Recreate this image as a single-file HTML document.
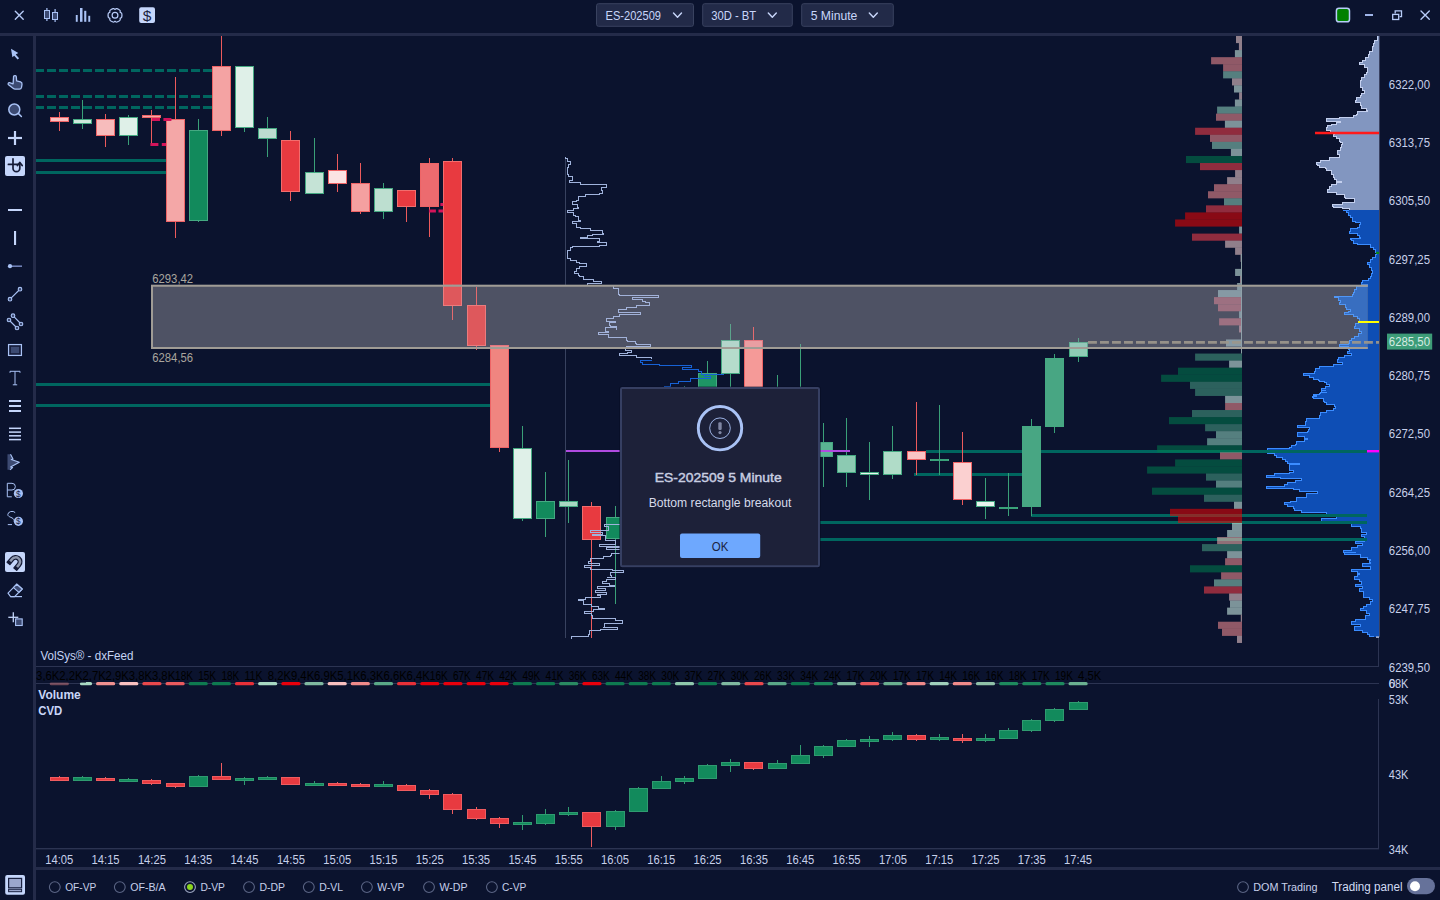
<!DOCTYPE html><html><head><meta charset="utf-8"><title>VolSys chart</title>
<style>html,body{margin:0;padding:0;background:#0b132e;overflow:hidden}svg{display:block}text{font-family:"Liberation Sans",sans-serif}</style></head><body>
<svg width="1440" height="900" viewBox="0 0 1440 900">
<rect width="1440" height="900" fill="#0b132e"/>
<defs><clipPath id="chart"><rect x="36" y="36" width="1343" height="630.5"/></clipPath><clipPath id="rc"><rect x="151" y="284.8" width="1216.8" height="64.2"/></clipPath></defs>
<g clip-path="url(#chart)">
<path d="M1379,36.0L1377.2,36.0V40.0H1374.6V43.3H1373.9V46.7H1372.3V51.1H1369.4V54.4H1368.6V57.1H1365.9V60.4H1362.3V62.9H1359.4V64.7H1364.6V67.8H1367.2V72.2H1366.3V74.4H1364.6V77.1H1361.4V80.7H1360.1V84.4H1360.6V87.3H1362.8V90.0H1364.6V93.3H1361.9V95.8H1360.6V97.3H1356.1V100.7H1355.7V102.4H1360.6V105.6H1361.7V108.2H1366.8V110.0H1367.9V111.3H1357.0V114.4H1356.1V115.8H1353.4V117.1H1339.0V118.4H1326.3V120.2H1326.8V121.1H1340.1V122.4H1336.8V124.2H1331.7V125.6H1327.9V127.8H1326.3V129.6H1326.8V130.9H1330.8V132.7H1334.6V134.4H1333.4V136.7H1336.8V138.9H1339.0V141.1H1340.6V142.4H1342.8V144.4H1341.9V147.8H1340.1V150.0H1337.9V152.7H1337.0V154.9H1339.0V157.1H1329.4V158.9H1329.0V160.7H1320.1V162.4H1316.8V164.2H1317.4V165.6H1319.7V167.3H1325.9V168.7H1326.8V170.0H1331.2V172.2H1331.7V174.4H1333.0V177.1H1334.6V179.3H1336.8V181.1H1341.4V182.9H1336.8V184.2H1331.7V186.0H1329.0V189.1H1327.4V191.3H1327.9V192.7H1336.8V194.9H1344.6V197.1H1345.0V198.9H1354.6V200.7H1354.1V202.4H1342.3V204.2H1332.6V206.0H1333.0V207.1H1342.8V208.7H1349.0V210.0H1346.8V210.0H1348.1V210.0H1379Z" fill="#8296c0" shape-rendering="crispEdges"/><path d="M1377.2,36.0V40.0H1374.6V43.3H1373.9V46.7H1372.3V51.1H1369.4V54.4H1368.6V57.1H1365.9V60.4H1362.3V62.9H1359.4V64.7H1364.6V67.8H1367.2V72.2H1366.3V74.4H1364.6V77.1H1361.4V80.7H1360.1V84.4H1360.6V87.3H1362.8V90.0H1364.6V93.3H1361.9V95.8H1360.6V97.3H1356.1V100.7H1355.7V102.4H1360.6V105.6H1361.7V108.2H1366.8V110.0H1367.9V111.3H1357.0V114.4H1356.1V115.8H1353.4V117.1H1339.0V118.4H1326.3V120.2H1326.8V121.1H1340.1V122.4H1336.8V124.2H1331.7V125.6H1327.9V127.8H1326.3V129.6H1326.8V130.9H1330.8V132.7H1334.6V134.4H1333.4V136.7H1336.8V138.9H1339.0V141.1H1340.6V142.4H1342.8V144.4H1341.9V147.8H1340.1V150.0H1337.9V152.7H1337.0V154.9H1339.0V157.1H1329.4V158.9H1329.0V160.7H1320.1V162.4H1316.8V164.2H1317.4V165.6H1319.7V167.3H1325.9V168.7H1326.8V170.0H1331.2V172.2H1331.7V174.4H1333.0V177.1H1334.6V179.3H1336.8V181.1H1341.4V182.9H1336.8V184.2H1331.7V186.0H1329.0V189.1H1327.4V191.3H1327.9V192.7H1336.8V194.9H1344.6V197.1H1345.0V198.9H1354.6V200.7H1354.1V202.4H1342.3V204.2H1332.6V206.0H1333.0V207.1H1342.8V208.7H1349.0V210.0H1346.8V210.0H1348.1V210.0" fill="none" stroke="#c3cfee" stroke-width="1" shape-rendering="crispEdges"/>
<path d="M1379,210.0L1342.8,210.0V210.0H1349.0V210.0H1346.8V212.2H1348.1V215.1H1350.1V217.8H1352.3V221.1H1355.2V222.7H1360.1V224.9H1359.7V227.1H1357.9V228.4H1350.1V231.1H1349.7V233.3H1357.9V235.6H1359.7V237.3H1360.1V238.2H1350.8V239.6H1351.7V240.9H1353.9V243.1H1357.4V244.9H1370.8V247.1H1373.0V249.3H1375.7V252.4H1376.8V254.7H1375.7V257.3H1372.3V259.6H1370.3V262.7H1367.2V264.9H1369.0V267.8H1371.2V270.7H1372.6V273.3H1371.2V276.0H1370.1V278.2H1368.6V280.4H1362.8V282.7H1361.9V284.4H1367.7V286.7H1356.1V289.3H1354.6V292.2H1353.4V294.7H1352.6V296.0H1334.6V297.8H1338.3V300.4H1340.1V302.7H1339.7V304.9H1345.7V307.6H1346.3V309.3H1350.1V311.1H1348.6V312.9H1344.1V314.2H1353.4V316.4H1357.4V318.7H1359.0V321.8H1358.3V323.6H1355.7V326.7H1354.6V328.9H1359.0V331.6H1361.9V333.3H1358.3V336.0H1354.6V338.2H1351.2V340.4H1349.0V343.1H1348.6V344.9H1339.0V346.7H1348.6V349.3H1349.0V351.1H1347.9V353.3H1351.2V355.1H1344.6V357.3H1338.3V359.6H1337.9V362.2H1342.8V364.4H1333.9V366.7H1319.7V368.9H1315.0V371.6H1314.1V373.8H1303.9V375.6H1309.4V377.3H1313.0V379.1H1318.3V380.0H1319.0V381.3H1324.1V382.2H1326.8V383.6H1326.8V384.4H1329.0V385.8H1329.0V386.7H1325.9V388.0H1322.8V388.0H1321.2V390.2H1325.9V390.2H1321.9V392.0H1326.8V392.4H1320.6V393.8H1319.7V394.7H1313.4V395.6H1316.8V396.9H1312.8V397.8H1313.4V398.7H1323.4V401.3H1324.6V402.7H1326.8V404.4H1334.6V406.7H1335.7V408.9H1333.4V410.7H1326.8V412.9H1320.6V415.1H1319.7V417.3H1319.0V418.9H1306.8V421.3H1305.7V423.6H1305.9V425.3H1297.4V427.1H1309.0V429.3H1308.1V431.6H1307.7V432.9H1297.9V434.7H1297.4V436.0H1304.6V438.2H1307.9V439.6H1304.6V441.8H1296.8V444.0H1295.7V445.3H1291.2V447.1H1289.0V448.4H1267.9V450.7H1267.9V453.3H1274.6V455.6H1276.8V457.3H1282.3V459.1H1285.7V461.3H1287.9V463.1H1299.0V464.4H1289.0V467.1H1289.0V469.3H1289.4V470.7H1293.4V472.4H1289.0V473.8H1274.6V475.6H1266.3V477.3H1280.1V478.7H1301.2V480.4H1295.7V482.2H1287.9V484.4H1284.6V486.2H1266.3V488.0H1293.4V489.8H1299.0V491.6H1317.4V493.3H1306.8V495.6H1306.3V497.3H1296.8V499.6H1296.1V501.3H1290.1V502.7H1284.6V504.4H1287.9V506.7H1293.4V508.4H1294.6V510.2H1301.2V512.0H1326.8V514.2H1326.8V516.9H1336.8V518.7H1321.2V520.9H1321.2V522.7H1351.2V524.4H1351.7V526.2H1360.1V528.4H1361.2V530.7H1361.2V532.0H1366.8V534.2H1361.2V536.4H1364.6V538.7H1364.6V541.3H1355.7V543.6H1362.3V545.3H1357.9V547.1H1351.2V548.9H1351.2V550.0H1343.4V550.7H1343.4V552.2H1355.7V552.9H1344.6V554.7H1356.8V554.9H1360.1V556.9H1360.1V557.1H1367.9V558.7H1367.9V559.3H1370.1V560.9H1369.0V562.4H1370.1V563.1H1362.3V563.8H1362.8V565.3H1362.8V566.0H1369.0V566.7H1370.1V568.2H1370.1V568.4H1370.1V569.8H1351.2V570.0H1351.2V571.6H1357.9V572.2H1357.9V573.8H1359.0V574.9H1357.9V576.9H1354.6V577.1H1354.6V579.3H1359.0V581.6H1361.2V584.2H1355.7V586.4H1362.3V588.7H1359.0V591.3H1363.4V594.4H1363.4V597.1H1369.0V599.3H1372.3V601.6H1370.1V604.2H1366.8V606.0H1363.4V608.2H1360.6V610.4H1366.8V613.1H1369.0V615.3H1365.7V617.6H1365.7V619.3H1355.7V621.6H1351.7V624.2H1360.1V626.4H1354.6V629.1H1354.6V630.4H1362.3V632.2H1367.9V634.4H1369.0V636.2H1373.4V636.7H1379Z" fill="#0e4eb5" shape-rendering="crispEdges"/><path d="M1342.8,210.0V210.0H1349.0V210.0H1346.8V212.2H1348.1V215.1H1350.1V217.8H1352.3V221.1H1355.2V222.7H1360.1V224.9H1359.7V227.1H1357.9V228.4H1350.1V231.1H1349.7V233.3H1357.9V235.6H1359.7V237.3H1360.1V238.2H1350.8V239.6H1351.7V240.9H1353.9V243.1H1357.4V244.9H1370.8V247.1H1373.0V249.3H1375.7V252.4H1376.8V254.7H1375.7V257.3H1372.3V259.6H1370.3V262.7H1367.2V264.9H1369.0V267.8H1371.2V270.7H1372.6V273.3H1371.2V276.0H1370.1V278.2H1368.6V280.4H1362.8V282.7H1361.9V284.4H1367.7V286.7H1356.1V289.3H1354.6V292.2H1353.4V294.7H1352.6V296.0H1334.6V297.8H1338.3V300.4H1340.1V302.7H1339.7V304.9H1345.7V307.6H1346.3V309.3H1350.1V311.1H1348.6V312.9H1344.1V314.2H1353.4V316.4H1357.4V318.7H1359.0V321.8H1358.3V323.6H1355.7V326.7H1354.6V328.9H1359.0V331.6H1361.9V333.3H1358.3V336.0H1354.6V338.2H1351.2V340.4H1349.0V343.1H1348.6V344.9H1339.0V346.7H1348.6V349.3H1349.0V351.1H1347.9V353.3H1351.2V355.1H1344.6V357.3H1338.3V359.6H1337.9V362.2H1342.8V364.4H1333.9V366.7H1319.7V368.9H1315.0V371.6H1314.1V373.8H1303.9V375.6H1309.4V377.3H1313.0V379.1H1318.3V380.0H1319.0V381.3H1324.1V382.2H1326.8V383.6H1326.8V384.4H1329.0V385.8H1329.0V386.7H1325.9V388.0H1322.8V388.0H1321.2V390.2H1325.9V390.2H1321.9V392.0H1326.8V392.4H1320.6V393.8H1319.7V394.7H1313.4V395.6H1316.8V396.9H1312.8V397.8H1313.4V398.7H1323.4V401.3H1324.6V402.7H1326.8V404.4H1334.6V406.7H1335.7V408.9H1333.4V410.7H1326.8V412.9H1320.6V415.1H1319.7V417.3H1319.0V418.9H1306.8V421.3H1305.7V423.6H1305.9V425.3H1297.4V427.1H1309.0V429.3H1308.1V431.6H1307.7V432.9H1297.9V434.7H1297.4V436.0H1304.6V438.2H1307.9V439.6H1304.6V441.8H1296.8V444.0H1295.7V445.3H1291.2V447.1H1289.0V448.4H1267.9V450.7H1267.9V453.3H1274.6V455.6H1276.8V457.3H1282.3V459.1H1285.7V461.3H1287.9V463.1H1299.0V464.4H1289.0V467.1H1289.0V469.3H1289.4V470.7H1293.4V472.4H1289.0V473.8H1274.6V475.6H1266.3V477.3H1280.1V478.7H1301.2V480.4H1295.7V482.2H1287.9V484.4H1284.6V486.2H1266.3V488.0H1293.4V489.8H1299.0V491.6H1317.4V493.3H1306.8V495.6H1306.3V497.3H1296.8V499.6H1296.1V501.3H1290.1V502.7H1284.6V504.4H1287.9V506.7H1293.4V508.4H1294.6V510.2H1301.2V512.0H1326.8V514.2H1326.8V516.9H1336.8V518.7H1321.2V520.9H1321.2V522.7H1351.2V524.4H1351.7V526.2H1360.1V528.4H1361.2V530.7H1361.2V532.0H1366.8V534.2H1361.2V536.4H1364.6V538.7H1364.6V541.3H1355.7V543.6H1362.3V545.3H1357.9V547.1H1351.2V548.9H1351.2V550.0H1343.4V550.7H1343.4V552.2H1355.7V552.9H1344.6V554.7H1356.8V554.9H1360.1V556.9H1360.1V557.1H1367.9V558.7H1367.9V559.3H1370.1V560.9H1369.0V562.4H1370.1V563.1H1362.3V563.8H1362.8V565.3H1362.8V566.0H1369.0V566.7H1370.1V568.2H1370.1V568.4H1370.1V569.8H1351.2V570.0H1351.2V571.6H1357.9V572.2H1357.9V573.8H1359.0V574.9H1357.9V576.9H1354.6V577.1H1354.6V579.3H1359.0V581.6H1361.2V584.2H1355.7V586.4H1362.3V588.7H1359.0V591.3H1363.4V594.4H1363.4V597.1H1369.0V599.3H1372.3V601.6H1370.1V604.2H1366.8V606.0H1363.4V608.2H1360.6V610.4H1366.8V613.1H1369.0V615.3H1365.7V617.6H1365.7V619.3H1355.7V621.6H1351.7V624.2H1360.1V626.4H1354.6V629.1H1354.6V630.4H1362.3V632.2H1367.9V634.4H1369.0V636.2H1373.4V636.7" fill="none" stroke="#3b8cff" stroke-width="1" shape-rendering="crispEdges"/>
<line x1="36" y1="70.5" x2="212" y2="70.5" stroke="#00665f" stroke-width="3" stroke-dasharray="8.8 3.2" stroke-dashoffset="1.3" shape-rendering="crispEdges"/>
<line x1="36" y1="96.5" x2="212" y2="96.5" stroke="#00665f" stroke-width="3" stroke-dasharray="8.8 3.2" stroke-dashoffset="1.3" shape-rendering="crispEdges"/>
<line x1="36" y1="107.5" x2="212" y2="107.5" stroke="#00665f" stroke-width="3" stroke-dasharray="8.8 3.2" stroke-dashoffset="1.3" shape-rendering="crispEdges"/>
<line x1="36" y1="160.5" x2="166" y2="160.5" stroke="#00665f" stroke-width="3" shape-rendering="crispEdges"/>
<line x1="36" y1="172.5" x2="166" y2="172.5" stroke="#00665f" stroke-width="3" shape-rendering="crispEdges"/>
<line x1="36" y1="384.5" x2="490" y2="384.5" stroke="#00665f" stroke-width="3" shape-rendering="crispEdges"/>
<line x1="36" y1="405.5" x2="490" y2="405.5" stroke="#00665f" stroke-width="3" shape-rendering="crispEdges"/>
<line x1="926" y1="451.5" x2="1367" y2="451.5" stroke="#00665f" stroke-width="3" shape-rendering="crispEdges"/>
<rect x="1367" y="450" width="12" height="2.4" fill="#ff00ff"/>
<line x1="914" y1="474.5" x2="1022" y2="474.5" stroke="#00665f" stroke-width="3" shape-rendering="crispEdges"/>
<line x1="1031" y1="515.5" x2="1367" y2="515.5" stroke="#00665f" stroke-width="3" shape-rendering="crispEdges"/>
<line x1="625" y1="522.5" x2="1367" y2="522.5" stroke="#00665f" stroke-width="3" shape-rendering="crispEdges"/>
<line x1="625" y1="539.5" x2="1367" y2="539.5" stroke="#00665f" stroke-width="3" shape-rendering="crispEdges"/>
<rect x="1236.0" y="36.00" width="6.0" height="7.11" fill="rgba(255,217,217,0.55)"/>
<rect x="1238.9" y="43.06" width="3.1" height="7.11" fill="rgba(255,217,217,0.55)"/>
<rect x="1234.9" y="50.11" width="7.1" height="7.11" fill="rgba(218,254,242,0.55)"/>
<rect x="1211.1" y="57.17" width="30.9" height="7.11" fill="rgba(255,148,151,0.55)"/>
<rect x="1223.1" y="64.23" width="18.9" height="7.11" fill="rgba(255,148,151,0.55)"/>
<rect x="1223.1" y="71.28" width="18.9" height="7.11" fill="rgba(147,217,195,0.55)"/>
<rect x="1232.0" y="78.34" width="10.0" height="7.11" fill="rgba(255,217,217,0.55)"/>
<rect x="1234.0" y="85.40" width="8.0" height="7.11" fill="rgba(218,254,242,0.55)"/>
<rect x="1239.1" y="92.46" width="2.9" height="7.11" fill="rgba(255,217,217,0.55)"/>
<rect x="1234.9" y="99.51" width="7.1" height="7.11" fill="rgba(218,254,242,0.55)"/>
<rect x="1217.1" y="106.57" width="24.9" height="7.11" fill="rgba(147,217,195,0.55)"/>
<rect x="1216.0" y="113.63" width="26.0" height="7.11" fill="rgba(255,148,151,0.55)"/>
<rect x="1224.9" y="120.68" width="17.1" height="7.11" fill="rgba(218,254,242,0.55)"/>
<rect x="1195.1" y="127.74" width="46.9" height="7.11" fill="rgba(255,66,77,0.55)"/>
<rect x="1210.0" y="134.80" width="32.0" height="7.11" fill="rgba(255,148,151,0.55)"/>
<rect x="1212.0" y="141.86" width="30.0" height="7.11" fill="rgba(147,217,195,0.55)"/>
<rect x="1230.9" y="148.91" width="11.1" height="7.11" fill="rgba(218,254,242,0.55)"/>
<rect x="1186.0" y="155.97" width="56.0" height="7.11" fill="rgba(0,124,79,0.55)"/>
<rect x="1200.0" y="163.03" width="42.0" height="7.11" fill="rgba(255,66,77,0.55)"/>
<rect x="1235.1" y="170.08" width="6.9" height="7.11" fill="rgba(255,217,217,0.55)"/>
<rect x="1227.1" y="177.14" width="14.9" height="7.11" fill="rgba(255,217,217,0.55)"/>
<rect x="1214.0" y="184.20" width="28.0" height="7.11" fill="rgba(255,148,151,0.55)"/>
<rect x="1208.0" y="191.25" width="34.0" height="7.11" fill="rgba(255,148,151,0.55)"/>
<rect x="1224.0" y="198.31" width="18.0" height="7.11" fill="rgba(147,217,195,0.55)"/>
<rect x="1206.0" y="205.37" width="36.0" height="7.11" fill="rgba(255,66,77,0.55)"/>
<rect x="1185.1" y="212.43" width="56.9" height="7.11" fill="rgba(242,3,2,0.55)"/>
<rect x="1175.1" y="219.48" width="66.9" height="7.11" fill="rgba(242,3,2,0.55)"/>
<rect x="1239.1" y="226.54" width="2.9" height="7.11" fill="rgba(218,254,242,0.55)"/>
<rect x="1192.0" y="233.60" width="50.0" height="7.11" fill="rgba(255,66,77,0.55)"/>
<rect x="1225.1" y="240.65" width="16.9" height="7.11" fill="rgba(255,217,217,0.55)"/>
<rect x="1235.1" y="247.71" width="6.9" height="7.11" fill="rgba(255,217,217,0.55)"/>
<rect x="1240.5" y="254.77" width="1.5" height="7.11" fill="rgba(255,217,217,0.55)"/>
<rect x="1241.0" y="261.82" width="1.0" height="7.11" fill="rgba(218,254,242,0.55)"/>
<rect x="1235.1" y="268.88" width="6.9" height="7.11" fill="rgba(218,254,242,0.55)"/>
<rect x="1240.0" y="275.94" width="2.0" height="7.11" fill="rgba(255,217,217,0.55)"/>
<rect x="1237.1" y="283.00" width="4.9" height="7.11" fill="rgba(218,254,242,0.55)"/>
<rect x="1218.0" y="290.05" width="24.0" height="7.11" fill="rgba(218,254,242,0.55)"/>
<rect x="1214.0" y="297.11" width="28.0" height="7.11" fill="rgba(255,148,151,0.55)"/>
<rect x="1218.0" y="304.17" width="24.0" height="7.11" fill="rgba(255,148,151,0.55)"/>
<rect x="1239.1" y="311.22" width="2.9" height="7.11" fill="rgba(218,254,242,0.55)"/>
<rect x="1219.1" y="318.28" width="22.9" height="7.11" fill="rgba(255,148,151,0.55)"/>
<rect x="1239.1" y="325.34" width="2.9" height="7.11" fill="rgba(255,217,217,0.55)"/>
<rect x="1241.0" y="332.39" width="1.0" height="7.11" fill="rgba(255,217,217,0.55)"/>
<rect x="1226.0" y="339.45" width="16.0" height="7.11" fill="rgba(218,254,242,0.55)"/>
<rect x="1241.0" y="346.51" width="1.0" height="7.11" fill="rgba(218,254,242,0.55)"/>
<rect x="1195.1" y="353.56" width="46.9" height="7.11" fill="rgba(73,163,133,0.55)"/>
<rect x="1229.1" y="360.62" width="12.9" height="7.11" fill="rgba(218,254,242,0.55)"/>
<rect x="1178.0" y="367.68" width="64.0" height="7.11" fill="rgba(0,124,79,0.55)"/>
<rect x="1161.1" y="374.74" width="80.9" height="7.11" fill="rgba(0,124,79,0.55)"/>
<rect x="1190.0" y="381.79" width="52.0" height="7.11" fill="rgba(73,163,133,0.55)"/>
<rect x="1195.1" y="388.85" width="46.9" height="7.11" fill="rgba(73,163,133,0.55)"/>
<rect x="1225.1" y="395.91" width="16.9" height="7.11" fill="rgba(218,254,242,0.55)"/>
<rect x="1225.1" y="402.96" width="16.9" height="7.11" fill="rgba(255,148,151,0.55)"/>
<rect x="1192.0" y="410.02" width="50.0" height="7.11" fill="rgba(73,163,133,0.55)"/>
<rect x="1169.0" y="417.08" width="73.0" height="7.11" fill="rgba(0,124,79,0.55)"/>
<rect x="1205.1" y="424.14" width="36.9" height="7.11" fill="rgba(73,163,133,0.55)"/>
<rect x="1216.0" y="431.19" width="26.0" height="7.11" fill="rgba(147,217,195,0.55)"/>
<rect x="1207.1" y="438.25" width="34.9" height="7.11" fill="rgba(147,217,195,0.55)"/>
<rect x="1157.1" y="445.31" width="84.9" height="7.11" fill="rgba(0,124,79,0.55)"/>
<rect x="1220.0" y="452.36" width="22.0" height="7.11" fill="rgba(255,148,151,0.55)"/>
<rect x="1175.1" y="459.42" width="66.9" height="7.11" fill="rgba(0,124,79,0.55)"/>
<rect x="1147.1" y="466.48" width="94.9" height="7.11" fill="rgba(0,124,79,0.55)"/>
<rect x="1206.0" y="473.53" width="36.0" height="7.11" fill="rgba(73,163,133,0.55)"/>
<rect x="1216.0" y="480.59" width="26.0" height="7.11" fill="rgba(147,217,195,0.55)"/>
<rect x="1152.0" y="487.65" width="90.0" height="7.11" fill="rgba(0,124,79,0.55)"/>
<rect x="1204.0" y="494.71" width="38.0" height="7.11" fill="rgba(73,163,133,0.55)"/>
<rect x="1234.0" y="501.76" width="8.0" height="7.11" fill="rgba(218,254,242,0.55)"/>
<rect x="1170.0" y="508.82" width="72.0" height="7.11" fill="rgba(242,3,2,0.55)"/>
<rect x="1178.0" y="515.88" width="64.0" height="7.11" fill="rgba(242,3,2,0.55)"/>
<rect x="1232.0" y="522.93" width="10.0" height="7.11" fill="rgba(218,254,242,0.55)"/>
<rect x="1227.1" y="529.99" width="14.9" height="7.11" fill="rgba(218,254,242,0.55)"/>
<rect x="1217.1" y="537.05" width="24.9" height="7.11" fill="rgba(255,188,181,0.55)"/>
<rect x="1202.0" y="544.10" width="40.0" height="7.11" fill="rgba(73,163,133,0.55)"/>
<rect x="1227.1" y="551.16" width="14.9" height="7.11" fill="rgba(218,254,242,0.55)"/>
<rect x="1225.1" y="558.22" width="16.9" height="7.11" fill="rgba(255,148,151,0.55)"/>
<rect x="1190.0" y="565.27" width="52.0" height="7.11" fill="rgba(0,124,79,0.55)"/>
<rect x="1221.1" y="572.33" width="20.9" height="7.11" fill="rgba(255,148,151,0.55)"/>
<rect x="1214.0" y="579.39" width="28.0" height="7.11" fill="rgba(147,217,195,0.55)"/>
<rect x="1204.0" y="586.45" width="38.0" height="7.11" fill="rgba(255,66,77,0.55)"/>
<rect x="1229.1" y="593.50" width="12.9" height="7.11" fill="rgba(255,217,217,0.55)"/>
<rect x="1230.0" y="600.56" width="12.0" height="7.11" fill="rgba(218,254,242,0.55)"/>
<rect x="1227.1" y="607.62" width="14.9" height="7.11" fill="rgba(218,254,242,0.55)"/>
<rect x="1240.8" y="614.67" width="1.2" height="7.11" fill="rgba(255,217,217,0.55)"/>
<rect x="1218.0" y="621.73" width="24.0" height="7.11" fill="rgba(255,148,151,0.55)"/>
<rect x="1222.0" y="628.79" width="20.0" height="7.11" fill="rgba(255,148,151,0.55)"/>
<rect x="1237.0" y="635.85" width="5.0" height="7.11" fill="rgba(255,217,217,0.55)"/>
<line x1="1241.5" y1="254" x2="1241.5" y2="353" stroke="#8a9ea2" stroke-width="1"/>
<line x1="565.5" y1="157.3" x2="565.5" y2="285" stroke="#38425f" stroke-width="1" shape-rendering="crispEdges"/>
<line x1="565.5" y1="349" x2="565.5" y2="638" stroke="#38425f" stroke-width="1" shape-rendering="crispEdges"/>
<rect x="59" y="112" width="1" height="19" fill="#ec5a5c"/><rect x="50" y="117" width="19" height="5" fill="#ee6466"/><rect x="51" y="118" width="17" height="3" fill="#f9c0c0"/>
<rect x="82" y="100" width="1" height="29" fill="#3aa078"/><rect x="73" y="119" width="19" height="5" fill="#45a982"/><rect x="74" y="120" width="17" height="3" fill="#cfe9dc"/>
<rect x="105" y="114" width="1" height="33" fill="#ec5a5c"/><rect x="96" y="119" width="19" height="17" fill="#ee6466"/><rect x="97" y="120" width="17" height="15" fill="#f7bcbc"/>
<rect x="128" y="115" width="1" height="30" fill="#3aa078"/><rect x="119" y="117" width="19" height="19" fill="#45a982"/><rect x="120" y="118" width="17" height="17" fill="#dff0e8"/>
<rect x="151" y="110" width="1" height="33" fill="#ec5a5c"/><rect x="142" y="115" width="19" height="3" fill="#ee6466"/><rect x="143" y="116" width="17" height="1" fill="#f5a8a8"/>
<rect x="175" y="77" width="1" height="161" fill="#ec5a5c"/><rect x="166" y="119" width="19" height="103" fill="#ee6466"/><rect x="167" y="120" width="17" height="101" fill="#f4a7a7"/>
<rect x="198" y="119" width="1" height="103" fill="#3aa078"/><rect x="189" y="130" width="19" height="91" fill="#45a982"/><rect x="190" y="131" width="17" height="89" fill="#128a5c"/>
<rect x="221" y="36" width="1" height="100" fill="#ec5a5c"/><rect x="212" y="66" width="19" height="65" fill="#ee6466"/><rect x="213" y="67" width="17" height="63" fill="#f4a3a3"/>
<rect x="244" y="66" width="1" height="66" fill="#3aa078"/><rect x="235" y="66" width="19" height="62" fill="#45a982"/><rect x="236" y="67" width="17" height="60" fill="#dff0e8"/>
<rect x="267" y="117" width="1" height="40" fill="#3aa078"/><rect x="258" y="128" width="19" height="11" fill="#45a982"/><rect x="259" y="129" width="17" height="9" fill="#bcdccf"/>
<rect x="290" y="131" width="1" height="70" fill="#ec5a5c"/><rect x="281" y="140" width="19" height="52" fill="#f26d6d"/><rect x="282" y="141" width="17" height="50" fill="#e83a40"/>
<rect x="314" y="138" width="1" height="56" fill="#3aa078"/><rect x="305" y="172" width="19" height="22" fill="#45a982"/><rect x="306" y="173" width="17" height="20" fill="#c5e3d6"/>
<rect x="337" y="154" width="1" height="38" fill="#ec5a5c"/><rect x="328" y="170" width="19" height="14" fill="#ee6466"/><rect x="329" y="171" width="17" height="12" fill="#fbe3e3"/>
<rect x="360" y="163" width="1" height="51" fill="#ec5a5c"/><rect x="351" y="183" width="19" height="29" fill="#ee6466"/><rect x="352" y="184" width="17" height="27" fill="#f4a0a0"/>
<rect x="383" y="183" width="1" height="36" fill="#3aa078"/><rect x="374" y="188" width="19" height="24" fill="#45a982"/><rect x="375" y="189" width="17" height="22" fill="#bddfd0"/>
<rect x="406" y="190" width="1" height="32" fill="#ec5a5c"/><rect x="397" y="190" width="19" height="17" fill="#f26d6d"/><rect x="398" y="191" width="17" height="15" fill="#e83a40"/>
<rect x="429" y="158" width="1" height="79" fill="#ec5a5c"/><rect x="420" y="163" width="19" height="44" fill="#ee6466"/><rect x="421" y="164" width="17" height="42" fill="#ec6b6f"/>
<rect x="452" y="158" width="1" height="162" fill="#ec5a5c"/><rect x="443" y="161" width="19" height="145" fill="#f26d6d"/><rect x="444" y="162" width="17" height="143" fill="#e83a40"/>
<rect x="476" y="287" width="1" height="63" fill="#ec5a5c"/><rect x="467" y="305" width="19" height="41" fill="#f26d6d"/><rect x="468" y="306" width="17" height="39" fill="#e83a40"/>
<rect x="499" y="345" width="1" height="107" fill="#ec5a5c"/><rect x="490" y="345" width="19" height="103" fill="#ee6466"/><rect x="491" y="346" width="17" height="101" fill="#f08580"/>
<rect x="522" y="426" width="1" height="95" fill="#3aa078"/><rect x="513" y="448" width="19" height="71" fill="#45a982"/><rect x="514" y="449" width="17" height="69" fill="#dff0e8"/>
<rect x="545" y="472" width="1" height="65" fill="#3aa078"/><rect x="536" y="501" width="19" height="18" fill="#45a982"/><rect x="537" y="502" width="17" height="16" fill="#128a5c"/>
<rect x="568" y="460" width="1" height="63" fill="#3aa078"/><rect x="559" y="501" width="19" height="6" fill="#45a982"/><rect x="560" y="502" width="17" height="4" fill="#a8d8c2"/>
<rect x="591" y="502" width="1" height="136" fill="#ec5a5c"/><rect x="582" y="506" width="19" height="34" fill="#f26d6d"/><rect x="583" y="507" width="17" height="32" fill="#e83a40"/>
<rect x="615" y="506" width="1" height="98" fill="#3aa078"/><rect x="606" y="517" width="19" height="22" fill="#45a982"/><rect x="607" y="518" width="17" height="20" fill="#128a5c"/>
<rect x="684" y="386" width="1" height="34" fill="#3aa078"/><rect x="675" y="390" width="19" height="30" fill="#45a982"/><rect x="676" y="391" width="17" height="28" fill="#128a5c"/>
<rect x="707" y="361" width="1" height="39" fill="#3aa078"/><rect x="698" y="373" width="19" height="27" fill="#45a982"/><rect x="699" y="374" width="17" height="25" fill="#1e9565"/>
<rect x="730" y="324" width="1" height="74" fill="#3aa078"/><rect x="721" y="340" width="19" height="34" fill="#45a982"/><rect x="722" y="341" width="17" height="32" fill="#b5dccb"/>
<rect x="753" y="327" width="1" height="73" fill="#ec5a5c"/><rect x="744" y="340" width="19" height="60" fill="#ee6466"/><rect x="745" y="341" width="17" height="58" fill="#f59a98"/>
<rect x="777" y="375" width="1" height="35" fill="#3aa078"/><rect x="768" y="392" width="19" height="18" fill="#45a982"/><rect x="769" y="393" width="17" height="16" fill="#8ccab2"/>
<rect x="800" y="344" width="1" height="66" fill="#3aa078"/><rect x="791" y="392" width="19" height="18" fill="#45a982"/><rect x="792" y="393" width="17" height="16" fill="#8ccab2"/>
<rect x="823" y="423" width="1" height="64" fill="#3aa078"/><rect x="814" y="442" width="19" height="15" fill="#45a982"/><rect x="815" y="443" width="17" height="13" fill="#5ab592"/>
<rect x="846" y="418" width="1" height="69" fill="#3aa078"/><rect x="837" y="455" width="19" height="18" fill="#45a982"/><rect x="838" y="456" width="17" height="16" fill="#8ccab2"/>
<rect x="869" y="442" width="1" height="58" fill="#3aa078"/><rect x="860" y="472" width="19" height="3" fill="#45a982"/><rect x="861" y="473" width="17" height="1" fill="#eaf6f0"/>
<rect x="892" y="426" width="1" height="53" fill="#3aa078"/><rect x="883" y="451" width="19" height="24" fill="#45a982"/><rect x="884" y="452" width="17" height="22" fill="#b0dcc8"/>
<rect x="916" y="402" width="1" height="73" fill="#ec5a5c"/><rect x="907" y="451" width="19" height="9" fill="#ee6466"/><rect x="908" y="452" width="17" height="7" fill="#f9c5c5"/>
<rect x="939" y="405" width="1" height="70" fill="#3aa078"/><rect x="930" y="459" width="19" height="2" fill="#45a982"/><rect x="931" y="459.5" width="17" height="1" fill="#2f9b70"/>
<rect x="962" y="432" width="1" height="73" fill="#ec5a5c"/><rect x="953" y="462" width="19" height="38" fill="#ee6466"/><rect x="954" y="463" width="17" height="36" fill="#fbd0d0"/>
<rect x="985" y="478" width="1" height="41" fill="#3aa078"/><rect x="976" y="501" width="19" height="6" fill="#45a982"/><rect x="977" y="502" width="17" height="4" fill="#e8f5ee"/>
<rect x="1008" y="473" width="1" height="43" fill="#3aa078"/><rect x="999" y="507" width="19" height="2" fill="#45a982"/><rect x="1000" y="507.5" width="17" height="1" fill="#2f9b70"/>
<rect x="1031" y="419" width="1" height="97" fill="#3aa078"/><rect x="1022" y="426" width="19" height="81" fill="#45a982"/><rect x="1023" y="427" width="17" height="79" fill="#48a683"/>
<rect x="1054" y="354" width="1" height="79" fill="#3aa078"/><rect x="1045" y="358" width="19" height="69" fill="#45a982"/><rect x="1046" y="359" width="17" height="67" fill="#48a683"/>
<rect x="1078" y="338" width="1" height="24" fill="#3aa078"/><rect x="1069" y="342" width="19" height="15" fill="#45a982"/><rect x="1070" y="343" width="17" height="13" fill="#8fccb5"/>
<rect x="566" y="450" width="284" height="2" fill="#b04be0"/>
<line x1="152" y1="119.5" x2="171.5" y2="119.5" stroke="#d4145a" stroke-width="3" stroke-dasharray="8 3.4"/>
<line x1="150.4" y1="144.5" x2="166" y2="144.5" stroke="#d4145a" stroke-width="3" stroke-dasharray="8 3.4"/>
<line x1="440.4" y1="204.4" x2="443.3" y2="204.4" stroke="#d4145a" stroke-width="3"/>
<line x1="428.9" y1="211.1" x2="443.3" y2="211.1" stroke="#d4145a" stroke-width="3" stroke-dasharray="7 2.6"/>
<path d="M565.4,156.7V158.9H567.2V161.1H570.6V164.4H568.8V167.8H567.9V171.1H567.2V174.4H568.8V176.7H572.3V180.0H569.7V182.7H571.7V182.7H580.6V184.9H580.6V184.9H606.6V187.3H606.6V187.3H601.2V190.0H602.8V193.3H599.4V194.4H585.0V196.7H585.0V196.7H578.3V200.0H576.8V201.6H572.8V204.0H572.8V204.0H577.2V207.3H578.3V208.2H573.9V210.0H567.9V212.2H567.9V212.9H573.9V215.6H575.0V216.2H578.3V220.0H580.1V221.6H572.8V223.3H576.1V226.2H576.8V227.8H580.6V228.9H590.6V230.0H602.8V233.3H603.4V234.0H592.8V235.6H587.2V237.8H580.6V238.9H599.4V241.6H597.7V242.2H606.6V244.4H606.6V245.6H599.4V246.0H572.8V247.8H570.1V250.0H567.9V255.6H567.9V258.9H570.1V260.4H576.1V262.2H579.9V263.8H586.1V265.6H586.1V266.7H579.9V268.9H576.1V271.8H574.6V273.3H578.3V275.6H579.4V276.7H583.9V278.9H583.9V279.6H593.9V281.6H601.7V283.3H587.9V284.9H587.9V285.3H613.9V287.3H613.9V288.9H618.3V294.4H619.4V295.6H658.3V297.3H658.3V297.8H632.8V299.3H642.8V301.8H645.0V302.9H649.4V304.4H649.4V305.1H636.1V307.3H635.0V307.8H626.1V309.6H618.3V311.8H618.3V312.9H640.6V314.4H640.6V314.9H619.4V316.7H613.9V318.9H606.1V320.7H606.1V321.1H615.0V322.2H609.4V325.6H610.6V326.7H616.1V329.6H616.1V327.8H605.0V331.1H608.3V332.2H598.3V334.4H598.3V334.9H608.3V337.3H613.9V337.8H626.1V340.7H627.2V341.6H635.0V343.8H636.1V344.4H650.6V346.7H650.6V346.7H626.1V348.9H626.1" fill="none" stroke="#a0b3dc" stroke-width="1" shape-rendering="crispEdges"/>
<path d="M625.0,349.3V350.4H631.7V352.0H627.7V353.3H627.7V353.3H619.4V355.7H619.4V355.7H636.3V357.6H636.6V357.6H651.0V358.9H651.7" fill="none" stroke="#a0b3dc" stroke-width="1" shape-rendering="crispEdges"/>
<path d="M651.7,360.0V360.3H640.3V362.0H640.3V362.4H642.3V364.7H642.3V364.4H659.3V365.3H659.7V365.3H691.7V367.3H691.7V367.6H682.3V369.3H682.3V369.3H698.7V371.3H698.7V371.6H701.7V373.6H701.7V374.0H723.7V374.7H723.7V374.9H704.3V376.7H704.3V376.7H710.7V378.7H710.7V378.7H690.3V381.3H690.3V381.6H678.3V383.3H678.3V383.6H670.3V386.0H669.4V386.7H664.3V390.7H661.7" fill="none" stroke="#1762d6" stroke-width="1" shape-rendering="crispEdges"/>
<path d="M620.0,524.5V524.5H604.5V526.7H604.5V526.7H608.3V528.7H608.3V530.0H605.0V530.5H590.5V532.5H590.5V532.8H602.5V534.2H602.5V534.5H592.5V535.5H592.5V535.8H605.0V540.0H605.8V540.5H615.0V543.7H615.0V544.5H599.5V546.3H599.5V546.7H620.0V547.5H620.0V547.5H606.7V549.5H606.7V549.5H620.0V553.3H620.0V553.7H611.7V555.8H610.8V556.7H603.3V558.3H603.3V558.7H590.5V560.8H590.0V561.7H588.3V562.8H588.3V563.3H599.2V565.3H599.7V565.5H584.5V567.5H584.5V567.8H590.5V569.2H590.5V569.5H612.5V570.5H612.5V570.8H623.7V572.5H623.7V572.8H610.0V575.0H610.0V575.3H611.7V576.7H611.7V577.0H607.5V577.8H615.0V579.2H615.0V579.5H606.7V581.2H606.7V581.7H602.5V583.3H602.5V583.7H609.2V585.3H609.2V585.7H614.7V586.7H614.7V586.7H597.5V588.3H597.5V588.8H605.5V590.5H605.5V590.8H595.5V592.5H595.5V592.8H606.7V593.8H606.7V594.2H597.5V595.3H597.5V595.8H600.8V597.2H600.8V597.5H585.8V599.5H584.2V599.7H578.3V600.5H578.3V600.8H583.3V604.2H583.3V604.5H591.3V606.2H591.3V606.7H598.7V608.7H598.7V608.8H604.7V609.5H604.7V609.7H593.7V611.3H593.0V611.7H584.5V613.7H584.5V613.8H591.3V615.8H592.0V618.3H592.5V618.7H615.3V620.3H615.8V620.5H622.5V622.5H622.5V623.7H620.8V623.7H604.7V627.5H603.3V627.7H617.8V629.5H617.8V629.7H600.3V630.5H600.3V630.5H589.2V634.2H588.3V636.3H587.5V636.7H571.3V638.7H571.3" fill="none" stroke="#a0b3dc" stroke-width="1" shape-rendering="crispEdges"/>
<rect x="151" y="284.8" width="1216.8" height="64.2" fill="#4e5264"/>
<g clip-path="url(#rc)">
<path d="M1379,210.0L1342.8,210.0V210.0H1349.0V210.0H1346.8V212.2H1348.1V215.1H1350.1V217.8H1352.3V221.1H1355.2V222.7H1360.1V224.9H1359.7V227.1H1357.9V228.4H1350.1V231.1H1349.7V233.3H1357.9V235.6H1359.7V237.3H1360.1V238.2H1350.8V239.6H1351.7V240.9H1353.9V243.1H1357.4V244.9H1370.8V247.1H1373.0V249.3H1375.7V252.4H1376.8V254.7H1375.7V257.3H1372.3V259.6H1370.3V262.7H1367.2V264.9H1369.0V267.8H1371.2V270.7H1372.6V273.3H1371.2V276.0H1370.1V278.2H1368.6V280.4H1362.8V282.7H1361.9V284.4H1367.7V286.7H1356.1V289.3H1354.6V292.2H1353.4V294.7H1352.6V296.0H1334.6V297.8H1338.3V300.4H1340.1V302.7H1339.7V304.9H1345.7V307.6H1346.3V309.3H1350.1V311.1H1348.6V312.9H1344.1V314.2H1353.4V316.4H1357.4V318.7H1359.0V321.8H1358.3V323.6H1355.7V326.7H1354.6V328.9H1359.0V331.6H1361.9V333.3H1358.3V336.0H1354.6V338.2H1351.2V340.4H1349.0V343.1H1348.6V344.9H1339.0V346.7H1348.6V349.3H1349.0V351.1H1347.9V353.3H1351.2V355.1H1344.6V357.3H1338.3V359.6H1337.9V362.2H1342.8V364.4H1333.9V366.7H1319.7V368.9H1315.0V371.6H1314.1V373.8H1303.9V375.6H1309.4V377.3H1313.0V379.1H1318.3V380.0H1319.0V381.3H1324.1V382.2H1326.8V383.6H1326.8V384.4H1329.0V385.8H1329.0V386.7H1325.9V388.0H1322.8V388.0H1321.2V390.2H1325.9V390.2H1321.9V392.0H1326.8V392.4H1320.6V393.8H1319.7V394.7H1313.4V395.6H1316.8V396.9H1312.8V397.8H1313.4V398.7H1323.4V401.3H1324.6V402.7H1326.8V404.4H1334.6V406.7H1335.7V408.9H1333.4V410.7H1326.8V412.9H1320.6V415.1H1319.7V417.3H1319.0V418.9H1306.8V421.3H1305.7V423.6H1305.9V425.3H1297.4V427.1H1309.0V429.3H1308.1V431.6H1307.7V432.9H1297.9V434.7H1297.4V436.0H1304.6V438.2H1307.9V439.6H1304.6V441.8H1296.8V444.0H1295.7V445.3H1291.2V447.1H1289.0V448.4H1267.9V450.7H1267.9V453.3H1274.6V455.6H1276.8V457.3H1282.3V459.1H1285.7V461.3H1287.9V463.1H1299.0V464.4H1289.0V467.1H1289.0V469.3H1289.4V470.7H1293.4V472.4H1289.0V473.8H1274.6V475.6H1266.3V477.3H1280.1V478.7H1301.2V480.4H1295.7V482.2H1287.9V484.4H1284.6V486.2H1266.3V488.0H1293.4V489.8H1299.0V491.6H1317.4V493.3H1306.8V495.6H1306.3V497.3H1296.8V499.6H1296.1V501.3H1290.1V502.7H1284.6V504.4H1287.9V506.7H1293.4V508.4H1294.6V510.2H1301.2V512.0H1326.8V514.2H1326.8V516.9H1336.8V518.7H1321.2V520.9H1321.2V522.7H1351.2V524.4H1351.7V526.2H1360.1V528.4H1361.2V530.7H1361.2V532.0H1366.8V534.2H1361.2V536.4H1364.6V538.7H1364.6V541.3H1355.7V543.6H1362.3V545.3H1357.9V547.1H1351.2V548.9H1351.2V550.0H1343.4V550.7H1343.4V552.2H1355.7V552.9H1344.6V554.7H1356.8V554.9H1360.1V556.9H1360.1V557.1H1367.9V558.7H1367.9V559.3H1370.1V560.9H1369.0V562.4H1370.1V563.1H1362.3V563.8H1362.8V565.3H1362.8V566.0H1369.0V566.7H1370.1V568.2H1370.1V568.4H1370.1V569.8H1351.2V570.0H1351.2V571.6H1357.9V572.2H1357.9V573.8H1359.0V574.9H1357.9V576.9H1354.6V577.1H1354.6V579.3H1359.0V581.6H1361.2V584.2H1355.7V586.4H1362.3V588.7H1359.0V591.3H1363.4V594.4H1363.4V597.1H1369.0V599.3H1372.3V601.6H1370.1V604.2H1366.8V606.0H1363.4V608.2H1360.6V610.4H1366.8V613.1H1369.0V615.3H1365.7V617.6H1365.7V619.3H1355.7V621.6H1351.7V624.2H1360.1V626.4H1354.6V629.1H1354.6V630.4H1362.3V632.2H1367.9V634.4H1369.0V636.2H1373.4V636.7H1379Z" fill="#386ec0" shape-rendering="crispEdges"/><path d="M1342.8,210.0V210.0H1349.0V210.0H1346.8V212.2H1348.1V215.1H1350.1V217.8H1352.3V221.1H1355.2V222.7H1360.1V224.9H1359.7V227.1H1357.9V228.4H1350.1V231.1H1349.7V233.3H1357.9V235.6H1359.7V237.3H1360.1V238.2H1350.8V239.6H1351.7V240.9H1353.9V243.1H1357.4V244.9H1370.8V247.1H1373.0V249.3H1375.7V252.4H1376.8V254.7H1375.7V257.3H1372.3V259.6H1370.3V262.7H1367.2V264.9H1369.0V267.8H1371.2V270.7H1372.6V273.3H1371.2V276.0H1370.1V278.2H1368.6V280.4H1362.8V282.7H1361.9V284.4H1367.7V286.7H1356.1V289.3H1354.6V292.2H1353.4V294.7H1352.6V296.0H1334.6V297.8H1338.3V300.4H1340.1V302.7H1339.7V304.9H1345.7V307.6H1346.3V309.3H1350.1V311.1H1348.6V312.9H1344.1V314.2H1353.4V316.4H1357.4V318.7H1359.0V321.8H1358.3V323.6H1355.7V326.7H1354.6V328.9H1359.0V331.6H1361.9V333.3H1358.3V336.0H1354.6V338.2H1351.2V340.4H1349.0V343.1H1348.6V344.9H1339.0V346.7H1348.6V349.3H1349.0V351.1H1347.9V353.3H1351.2V355.1H1344.6V357.3H1338.3V359.6H1337.9V362.2H1342.8V364.4H1333.9V366.7H1319.7V368.9H1315.0V371.6H1314.1V373.8H1303.9V375.6H1309.4V377.3H1313.0V379.1H1318.3V380.0H1319.0V381.3H1324.1V382.2H1326.8V383.6H1326.8V384.4H1329.0V385.8H1329.0V386.7H1325.9V388.0H1322.8V388.0H1321.2V390.2H1325.9V390.2H1321.9V392.0H1326.8V392.4H1320.6V393.8H1319.7V394.7H1313.4V395.6H1316.8V396.9H1312.8V397.8H1313.4V398.7H1323.4V401.3H1324.6V402.7H1326.8V404.4H1334.6V406.7H1335.7V408.9H1333.4V410.7H1326.8V412.9H1320.6V415.1H1319.7V417.3H1319.0V418.9H1306.8V421.3H1305.7V423.6H1305.9V425.3H1297.4V427.1H1309.0V429.3H1308.1V431.6H1307.7V432.9H1297.9V434.7H1297.4V436.0H1304.6V438.2H1307.9V439.6H1304.6V441.8H1296.8V444.0H1295.7V445.3H1291.2V447.1H1289.0V448.4H1267.9V450.7H1267.9V453.3H1274.6V455.6H1276.8V457.3H1282.3V459.1H1285.7V461.3H1287.9V463.1H1299.0V464.4H1289.0V467.1H1289.0V469.3H1289.4V470.7H1293.4V472.4H1289.0V473.8H1274.6V475.6H1266.3V477.3H1280.1V478.7H1301.2V480.4H1295.7V482.2H1287.9V484.4H1284.6V486.2H1266.3V488.0H1293.4V489.8H1299.0V491.6H1317.4V493.3H1306.8V495.6H1306.3V497.3H1296.8V499.6H1296.1V501.3H1290.1V502.7H1284.6V504.4H1287.9V506.7H1293.4V508.4H1294.6V510.2H1301.2V512.0H1326.8V514.2H1326.8V516.9H1336.8V518.7H1321.2V520.9H1321.2V522.7H1351.2V524.4H1351.7V526.2H1360.1V528.4H1361.2V530.7H1361.2V532.0H1366.8V534.2H1361.2V536.4H1364.6V538.7H1364.6V541.3H1355.7V543.6H1362.3V545.3H1357.9V547.1H1351.2V548.9H1351.2V550.0H1343.4V550.7H1343.4V552.2H1355.7V552.9H1344.6V554.7H1356.8V554.9H1360.1V556.9H1360.1V557.1H1367.9V558.7H1367.9V559.3H1370.1V560.9H1369.0V562.4H1370.1V563.1H1362.3V563.8H1362.8V565.3H1362.8V566.0H1369.0V566.7H1370.1V568.2H1370.1V568.4H1370.1V569.8H1351.2V570.0H1351.2V571.6H1357.9V572.2H1357.9V573.8H1359.0V574.9H1357.9V576.9H1354.6V577.1H1354.6V579.3H1359.0V581.6H1361.2V584.2H1355.7V586.4H1362.3V588.7H1359.0V591.3H1363.4V594.4H1363.4V597.1H1369.0V599.3H1372.3V601.6H1370.1V604.2H1366.8V606.0H1363.4V608.2H1360.6V610.4H1366.8V613.1H1369.0V615.3H1365.7V617.6H1365.7V619.3H1355.7V621.6H1351.7V624.2H1360.1V626.4H1354.6V629.1H1354.6V630.4H1362.3V632.2H1367.9V634.4H1369.0V636.2H1373.4V636.7" fill="none" stroke="#5096f5" stroke-width="1" shape-rendering="crispEdges"/>
<rect x="1237.1" y="283.00" width="4.9" height="7.11" fill="#8699a4"/>
<rect x="1218.0" y="290.05" width="24.0" height="7.11" fill="#8699a4"/>
<rect x="1214.0" y="297.11" width="28.0" height="7.11" fill="#9d7081"/>
<rect x="1218.0" y="304.17" width="24.0" height="7.11" fill="#9d7081"/>
<rect x="1239.1" y="311.22" width="2.9" height="7.11" fill="#8699a4"/>
<rect x="1219.1" y="318.28" width="22.9" height="7.11" fill="#9d7081"/>
<rect x="1239.1" y="325.34" width="2.9" height="7.11" fill="#a88a99"/>
<rect x="1241.0" y="332.39" width="1.0" height="7.11" fill="#a88a99"/>
<rect x="1226.0" y="339.45" width="16.0" height="7.11" fill="#8699a4"/>
<rect x="1241.0" y="346.51" width="1.0" height="7.11" fill="#8699a4"/>
<line x1="1241.5" y1="254" x2="1241.5" y2="353" stroke="#90a1aa" stroke-width="1"/>
<rect x="452" y="158" width="1" height="162" fill="#e46a6e"/><rect x="443" y="161" width="19" height="145" fill="#ea7c7e"/><rect x="444" y="162" width="17" height="143" fill="#de585c"/>
<rect x="476" y="287" width="1" height="63" fill="#e46a6e"/><rect x="467" y="305" width="19" height="41" fill="#ea7c7e"/><rect x="468" y="306" width="17" height="39" fill="#de585c"/>
<rect x="499" y="345" width="1" height="107" fill="#e46a6e"/><rect x="490" y="345" width="19" height="103" fill="#e3767f"/><rect x="491" y="346" width="17" height="101" fill="#e58e91"/>
<rect x="730" y="324" width="1" height="74" fill="#5ba38b"/><rect x="721" y="340" width="19" height="34" fill="#61aa92"/><rect x="722" y="341" width="17" height="32" fill="#b3d5cb"/>
<rect x="753" y="327" width="1" height="73" fill="#e46a6e"/><rect x="744" y="340" width="19" height="60" fill="#e3767f"/><rect x="745" y="341" width="17" height="58" fill="#e99ea2"/>
<rect x="800" y="344" width="1" height="66" fill="#5ba38b"/><rect x="791" y="392" width="19" height="18" fill="#61aa92"/><rect x="792" y="393" width="17" height="16" fill="#92c5b7"/>
<rect x="1078" y="338" width="1" height="24" fill="#5ba38b"/><rect x="1069" y="342" width="19" height="15" fill="#61aa92"/><rect x="1070" y="343" width="17" height="13" fill="#94c7b9"/>
<path d="M565.4,156.7V158.9H567.2V161.1H570.6V164.4H568.8V167.8H567.9V171.1H567.2V174.4H568.8V176.7H572.3V180.0H569.7V182.7H571.7V182.7H580.6V184.9H580.6V184.9H606.6V187.3H606.6V187.3H601.2V190.0H602.8V193.3H599.4V194.4H585.0V196.7H585.0V196.7H578.3V200.0H576.8V201.6H572.8V204.0H572.8V204.0H577.2V207.3H578.3V208.2H573.9V210.0H567.9V212.2H567.9V212.9H573.9V215.6H575.0V216.2H578.3V220.0H580.1V221.6H572.8V223.3H576.1V226.2H576.8V227.8H580.6V228.9H590.6V230.0H602.8V233.3H603.4V234.0H592.8V235.6H587.2V237.8H580.6V238.9H599.4V241.6H597.7V242.2H606.6V244.4H606.6V245.6H599.4V246.0H572.8V247.8H570.1V250.0H567.9V255.6H567.9V258.9H570.1V260.4H576.1V262.2H579.9V263.8H586.1V265.6H586.1V266.7H579.9V268.9H576.1V271.8H574.6V273.3H578.3V275.6H579.4V276.7H583.9V278.9H583.9V279.6H593.9V281.6H601.7V283.3H587.9V284.9H587.9V285.3H613.9V287.3H613.9V288.9H618.3V294.4H619.4V295.6H658.3V297.3H658.3V297.8H632.8V299.3H642.8V301.8H645.0V302.9H649.4V304.4H649.4V305.1H636.1V307.3H635.0V307.8H626.1V309.6H618.3V311.8H618.3V312.9H640.6V314.4H640.6V314.9H619.4V316.7H613.9V318.9H606.1V320.7H606.1V321.1H615.0V322.2H609.4V325.6H610.6V326.7H616.1V329.6H616.1V327.8H605.0V331.1H608.3V332.2H598.3V334.4H598.3V334.9H608.3V337.3H613.9V337.8H626.1V340.7H627.2V341.6H635.0V343.8H636.1V344.4H650.6V346.7H650.6V346.7H626.1V348.9H626.1" fill="none" stroke="#a2b2d9" stroke-width="1" shape-rendering="crispEdges"/>
</g>
<path d="M1367.8,285.8 H152 V348 H1367.8" fill="none" stroke="#a09c95" stroke-width="2"/>
<line x1="1088" y1="342.4" x2="1379" y2="342.4" stroke="rgba(156,151,140,0.92)" stroke-width="2.6" stroke-dasharray="8.9 3.1"/>
<line x1="1315" y1="133" x2="1379" y2="133" stroke="#ff1a1a" stroke-width="2.4"/>
<rect x="1358" y="321" width="21" height="2" fill="#ffff00"/>
<rect x="1376" y="251.8" width="3" height="2.2" fill="#0a8a20"/>
<text x="152.3" y="282.9" font-size="12" fill="#aaa69e" textLength="40.8" lengthAdjust="spacingAndGlyphs">6293,42</text>
<text x="152.3" y="361.5" font-size="12" fill="#aaa69e" textLength="40.8" lengthAdjust="spacingAndGlyphs">6284,56</text>
<text x="40.4" y="659.8" font-size="12" fill="#c5d3f5" textLength="93" lengthAdjust="spacingAndGlyphs">VolSys® - dxFeed</text>
</g>
<rect x="0" y="33" width="1440" height="3" fill="#242b49"/>
<rect x="33" y="36" width="3" height="864" fill="#242b49"/>
<rect x="36" y="666" width="1343" height="1" fill="#2c3452"/>
<rect x="36" y="683" width="1343" height="1" fill="#2c3452"/>
<rect x="1378" y="637" width="1" height="30" fill="#2c3452"/>
<rect x="1379" y="36" width="1" height="601" fill="#3a4262"/>
<rect x="1376" y="636.4" width="3" height="1.4" fill="#c0c8e0"/>
<rect x="1378" y="699" width="1" height="150" fill="#2c3452"/>
<rect x="36" y="848" width="1343" height="1.4" fill="#2c3452"/>
<rect x="36" y="867" width="1404" height="3" fill="#242b49"/>
<text x="36.1" y="680.2" font-size="12.6" fill="#000000" textLength="23.3" lengthAdjust="spacingAndGlyphs">3,6K</text>
<text x="59.3" y="680.2" font-size="12.6" fill="#000000" textLength="23.3" lengthAdjust="spacingAndGlyphs">2,2K</text>
<text x="82.5" y="680.2" font-size="12.6" fill="#000000" textLength="23.3" lengthAdjust="spacingAndGlyphs">2,7K</text>
<text x="105.6" y="680.2" font-size="12.6" fill="#000000" textLength="23.3" lengthAdjust="spacingAndGlyphs">2,9K</text>
<text x="128.8" y="680.2" font-size="12.6" fill="#000000" textLength="23.3" lengthAdjust="spacingAndGlyphs">3,8K</text>
<text x="151.9" y="680.2" font-size="12.6" fill="#000000" textLength="23.3" lengthAdjust="spacingAndGlyphs">3,8K</text>
<text x="175.1" y="680.2" font-size="12.6" fill="#000000" textLength="17.9" lengthAdjust="spacingAndGlyphs">18K</text>
<text x="198.2" y="680.2" font-size="12.6" fill="#000000" textLength="17.9" lengthAdjust="spacingAndGlyphs">15K</text>
<text x="221.4" y="680.2" font-size="12.6" fill="#000000" textLength="17.9" lengthAdjust="spacingAndGlyphs">18K</text>
<text x="244.5" y="680.2" font-size="12.6" fill="#000000" textLength="17.9" lengthAdjust="spacingAndGlyphs">11K</text>
<text x="267.7" y="680.2" font-size="12.6" fill="#000000" textLength="23.3" lengthAdjust="spacingAndGlyphs">8,2K</text>
<text x="290.9" y="680.2" font-size="12.6" fill="#000000" textLength="23.3" lengthAdjust="spacingAndGlyphs">9,4K</text>
<text x="314.0" y="680.2" font-size="12.6" fill="#000000" textLength="23.3" lengthAdjust="spacingAndGlyphs">6,9K</text>
<text x="337.2" y="680.2" font-size="12.6" fill="#000000" textLength="23.3" lengthAdjust="spacingAndGlyphs">5,1K</text>
<text x="360.3" y="680.2" font-size="12.6" fill="#000000" textLength="23.3" lengthAdjust="spacingAndGlyphs">6,3K</text>
<text x="383.5" y="680.2" font-size="12.6" fill="#000000" textLength="23.3" lengthAdjust="spacingAndGlyphs">6,6K</text>
<text x="406.6" y="680.2" font-size="12.6" fill="#000000" textLength="23.3" lengthAdjust="spacingAndGlyphs">6,4K</text>
<text x="429.8" y="680.2" font-size="12.6" fill="#000000" textLength="17.9" lengthAdjust="spacingAndGlyphs">16K</text>
<text x="452.9" y="680.2" font-size="12.6" fill="#000000" textLength="17.9" lengthAdjust="spacingAndGlyphs">67K</text>
<text x="476.1" y="680.2" font-size="12.6" fill="#000000" textLength="17.9" lengthAdjust="spacingAndGlyphs">47K</text>
<text x="499.2" y="680.2" font-size="12.6" fill="#000000" textLength="17.9" lengthAdjust="spacingAndGlyphs">42K</text>
<text x="522.4" y="680.2" font-size="12.6" fill="#000000" textLength="17.9" lengthAdjust="spacingAndGlyphs">49K</text>
<text x="545.6" y="680.2" font-size="12.6" fill="#000000" textLength="17.9" lengthAdjust="spacingAndGlyphs">41K</text>
<text x="568.7" y="680.2" font-size="12.6" fill="#000000" textLength="17.9" lengthAdjust="spacingAndGlyphs">36K</text>
<text x="591.9" y="680.2" font-size="12.6" fill="#000000" textLength="17.9" lengthAdjust="spacingAndGlyphs">63K</text>
<text x="615.0" y="680.2" font-size="12.6" fill="#000000" textLength="17.9" lengthAdjust="spacingAndGlyphs">44K</text>
<text x="638.2" y="680.2" font-size="12.6" fill="#000000" textLength="17.9" lengthAdjust="spacingAndGlyphs">38K</text>
<text x="661.3" y="680.2" font-size="12.6" fill="#000000" textLength="17.9" lengthAdjust="spacingAndGlyphs">30K</text>
<text x="684.5" y="680.2" font-size="12.6" fill="#000000" textLength="17.9" lengthAdjust="spacingAndGlyphs">37K</text>
<text x="707.6" y="680.2" font-size="12.6" fill="#000000" textLength="17.9" lengthAdjust="spacingAndGlyphs">27K</text>
<text x="730.8" y="680.2" font-size="12.6" fill="#000000" textLength="17.9" lengthAdjust="spacingAndGlyphs">30K</text>
<text x="754.0" y="680.2" font-size="12.6" fill="#000000" textLength="17.9" lengthAdjust="spacingAndGlyphs">26K</text>
<text x="777.1" y="680.2" font-size="12.6" fill="#000000" textLength="17.9" lengthAdjust="spacingAndGlyphs">33K</text>
<text x="800.3" y="680.2" font-size="12.6" fill="#000000" textLength="17.9" lengthAdjust="spacingAndGlyphs">34K</text>
<text x="823.4" y="680.2" font-size="12.6" fill="#000000" textLength="17.9" lengthAdjust="spacingAndGlyphs">24K</text>
<text x="846.6" y="680.2" font-size="12.6" fill="#000000" textLength="17.9" lengthAdjust="spacingAndGlyphs">17K</text>
<text x="869.7" y="680.2" font-size="12.6" fill="#000000" textLength="17.9" lengthAdjust="spacingAndGlyphs">20K</text>
<text x="892.9" y="680.2" font-size="12.6" fill="#000000" textLength="17.9" lengthAdjust="spacingAndGlyphs">17K</text>
<text x="916.0" y="680.2" font-size="12.6" fill="#000000" textLength="17.9" lengthAdjust="spacingAndGlyphs">17K</text>
<text x="939.2" y="680.2" font-size="12.6" fill="#000000" textLength="17.9" lengthAdjust="spacingAndGlyphs">14K</text>
<text x="962.3" y="680.2" font-size="12.6" fill="#000000" textLength="17.9" lengthAdjust="spacingAndGlyphs">16K</text>
<text x="985.5" y="680.2" font-size="12.6" fill="#000000" textLength="17.9" lengthAdjust="spacingAndGlyphs">16K</text>
<text x="1008.7" y="680.2" font-size="12.6" fill="#000000" textLength="17.9" lengthAdjust="spacingAndGlyphs">18K</text>
<text x="1031.8" y="680.2" font-size="12.6" fill="#000000" textLength="17.9" lengthAdjust="spacingAndGlyphs">17K</text>
<text x="1055.0" y="680.2" font-size="12.6" fill="#000000" textLength="17.9" lengthAdjust="spacingAndGlyphs">19K</text>
<text x="1078.1" y="680.2" font-size="12.6" fill="#000000" textLength="23.3" lengthAdjust="spacingAndGlyphs">4,5K</text>
<line x1="51.3" y1="683.7" x2="67.3" y2="683.7" stroke="#c07078" stroke-width="3.2" stroke-linecap="round" opacity="0.55"/>
<line x1="81.5" y1="683.7" x2="90.5" y2="683.7" stroke="#a8d8c2" stroke-width="3.2" stroke-linecap="round"/>
<line x1="97.6" y1="683.7" x2="113.6" y2="683.7" stroke="#f09090" stroke-width="3.2" stroke-linecap="round"/>
<line x1="120.8" y1="683.7" x2="136.8" y2="683.7" stroke="#f9c0c0" stroke-width="3.2" stroke-linecap="round"/>
<line x1="143.9" y1="683.7" x2="159.9" y2="683.7" stroke="#e8484c" stroke-width="3.2" stroke-linecap="round"/>
<line x1="167.1" y1="683.7" x2="183.1" y2="683.7" stroke="#ea5a5e" stroke-width="3.2" stroke-linecap="round"/>
<line x1="190.2" y1="683.7" x2="206.2" y2="683.7" stroke="#0e7a50" stroke-width="3.2" stroke-linecap="round"/>
<line x1="213.4" y1="683.7" x2="229.4" y2="683.7" stroke="#0e7a50" stroke-width="3.2" stroke-linecap="round"/>
<line x1="236.5" y1="683.7" x2="252.5" y2="683.7" stroke="#e83038" stroke-width="3.2" stroke-linecap="round"/>
<line x1="259.7" y1="683.7" x2="275.7" y2="683.7" stroke="#a8d8c2" stroke-width="3.2" stroke-linecap="round"/>
<line x1="282.9" y1="683.7" x2="298.9" y2="683.7" stroke="#e8000c" stroke-width="3.2" stroke-linecap="round"/>
<line x1="306.0" y1="683.7" x2="322.0" y2="683.7" stroke="#7fb8a0" stroke-width="3.2" stroke-linecap="round"/>
<line x1="329.2" y1="683.7" x2="345.2" y2="683.7" stroke="#f9c0c0" stroke-width="3.2" stroke-linecap="round"/>
<line x1="352.3" y1="683.7" x2="368.3" y2="683.7" stroke="#f08a8a" stroke-width="3.2" stroke-linecap="round"/>
<line x1="375.5" y1="683.7" x2="391.5" y2="683.7" stroke="#5aa888" stroke-width="3.2" stroke-linecap="round"/>
<line x1="398.6" y1="683.7" x2="414.6" y2="683.7" stroke="#e83038" stroke-width="3.2" stroke-linecap="round"/>
<line x1="421.8" y1="683.7" x2="437.8" y2="683.7" stroke="#e8000c" stroke-width="3.2" stroke-linecap="round"/>
<line x1="444.9" y1="683.7" x2="460.9" y2="683.7" stroke="#e8000c" stroke-width="3.2" stroke-linecap="round"/>
<line x1="468.1" y1="683.7" x2="484.1" y2="683.7" stroke="#e8000c" stroke-width="3.2" stroke-linecap="round"/>
<line x1="491.2" y1="683.7" x2="507.2" y2="683.7" stroke="#e8000c" stroke-width="3.2" stroke-linecap="round"/>
<line x1="514.4" y1="683.7" x2="530.4" y2="683.7" stroke="#0e7a50" stroke-width="3.2" stroke-linecap="round"/>
<line x1="537.6" y1="683.7" x2="553.6" y2="683.7" stroke="#0e7a50" stroke-width="3.2" stroke-linecap="round"/>
<line x1="560.7" y1="683.7" x2="576.7" y2="683.7" stroke="#2a8a62" stroke-width="3.2" stroke-linecap="round"/>
<line x1="583.9" y1="683.7" x2="599.9" y2="683.7" stroke="#e8000c" stroke-width="3.2" stroke-linecap="round"/>
<line x1="607.0" y1="683.7" x2="623.0" y2="683.7" stroke="#0e7a50" stroke-width="3.2" stroke-linecap="round"/>
<line x1="630.2" y1="683.7" x2="646.2" y2="683.7" stroke="#0e7a50" stroke-width="3.2" stroke-linecap="round"/>
<line x1="653.3" y1="683.7" x2="669.3" y2="683.7" stroke="#0e7a50" stroke-width="3.2" stroke-linecap="round"/>
<line x1="676.5" y1="683.7" x2="692.5" y2="683.7" stroke="#8fc8ac" stroke-width="3.2" stroke-linecap="round"/>
<line x1="699.6" y1="683.7" x2="715.6" y2="683.7" stroke="#0e7a50" stroke-width="3.2" stroke-linecap="round"/>
<line x1="722.8" y1="683.7" x2="738.8" y2="683.7" stroke="#7fb8a0" stroke-width="3.2" stroke-linecap="round"/>
<line x1="746.0" y1="683.7" x2="762.0" y2="683.7" stroke="#e8484c" stroke-width="3.2" stroke-linecap="round"/>
<line x1="769.1" y1="683.7" x2="785.1" y2="683.7" stroke="#5aa888" stroke-width="3.2" stroke-linecap="round"/>
<line x1="792.3" y1="683.7" x2="808.3" y2="683.7" stroke="#0e7a50" stroke-width="3.2" stroke-linecap="round"/>
<line x1="815.4" y1="683.7" x2="831.4" y2="683.7" stroke="#1e8a5e" stroke-width="3.2" stroke-linecap="round"/>
<line x1="838.6" y1="683.7" x2="854.6" y2="683.7" stroke="#7fb8a0" stroke-width="3.2" stroke-linecap="round"/>
<line x1="861.7" y1="683.7" x2="877.7" y2="683.7" stroke="#ea5a5e" stroke-width="3.2" stroke-linecap="round"/>
<line x1="884.9" y1="683.7" x2="900.9" y2="683.7" stroke="#6ab090" stroke-width="3.2" stroke-linecap="round"/>
<line x1="908.0" y1="683.7" x2="924.0" y2="683.7" stroke="#f08a8a" stroke-width="3.2" stroke-linecap="round"/>
<line x1="931.2" y1="683.7" x2="947.2" y2="683.7" stroke="#a0d0bc" stroke-width="3.2" stroke-linecap="round"/>
<line x1="954.3" y1="683.7" x2="970.3" y2="683.7" stroke="#f08a8a" stroke-width="3.2" stroke-linecap="round"/>
<line x1="977.5" y1="683.7" x2="993.5" y2="683.7" stroke="#8fc0a8" stroke-width="3.2" stroke-linecap="round"/>
<line x1="1000.7" y1="683.7" x2="1016.7" y2="683.7" stroke="#1e8a5e" stroke-width="3.2" stroke-linecap="round"/>
<line x1="1023.8" y1="683.7" x2="1039.8" y2="683.7" stroke="#1e8a5e" stroke-width="3.2" stroke-linecap="round"/>
<line x1="1047.0" y1="683.7" x2="1063.0" y2="683.7" stroke="#1e8a5e" stroke-width="3.2" stroke-linecap="round"/>
<line x1="1070.1" y1="683.7" x2="1086.1" y2="683.7" stroke="#6ab090" stroke-width="3.2" stroke-linecap="round"/>
<rect x="36" y="681" width="50" height="1.6" fill="#0b132e"/>
<text x="38.3" y="699" font-size="12" font-weight="bold" fill="#c9d6f7" textLength="42.5" lengthAdjust="spacingAndGlyphs">Volume</text>
<text x="38.3" y="714.6" font-size="12" font-weight="bold" fill="#c9d6f7" textLength="24" lengthAdjust="spacingAndGlyphs">CVD</text>
<rect x="59" y="776" width="1" height="5" fill="#ef5c60"/>
<rect x="50" y="777" width="19" height="4" fill="#ef5c60"/>
<rect x="51" y="778" width="17" height="2" fill="#e83a40"/>
<rect x="82" y="776" width="1" height="5" fill="#2f9b70"/>
<rect x="73" y="777" width="19" height="4" fill="#2f9b70"/>
<rect x="74" y="778" width="17" height="2" fill="#128a5c"/>
<rect x="105" y="777" width="1" height="4" fill="#ef5c60"/>
<rect x="96" y="778" width="19" height="3" fill="#ef5c60"/>
<rect x="97" y="779" width="17" height="1" fill="#e83a40"/>
<rect x="128" y="778" width="1" height="4" fill="#2f9b70"/>
<rect x="119" y="779" width="19" height="3" fill="#2f9b70"/>
<rect x="120" y="780" width="17" height="1" fill="#128a5c"/>
<rect x="151" y="779" width="1" height="6" fill="#ef5c60"/>
<rect x="142" y="780" width="19" height="4" fill="#ef5c60"/>
<rect x="143" y="781" width="17" height="2" fill="#e83a40"/>
<rect x="175" y="783" width="1" height="5" fill="#ef5c60"/>
<rect x="166" y="783" width="19" height="4" fill="#ef5c60"/>
<rect x="167" y="784" width="17" height="2" fill="#e83a40"/>
<rect x="198" y="775" width="1" height="12" fill="#2f9b70"/>
<rect x="189" y="776" width="19" height="11" fill="#2f9b70"/>
<rect x="190" y="777" width="17" height="9" fill="#128a5c"/>
<rect x="221" y="763" width="1" height="17" fill="#ef5c60"/>
<rect x="212" y="776" width="19" height="4" fill="#ef5c60"/>
<rect x="213" y="777" width="17" height="2" fill="#e83a40"/>
<rect x="244" y="777" width="1" height="8" fill="#2f9b70"/>
<rect x="235" y="778" width="19" height="3" fill="#2f9b70"/>
<rect x="236" y="779" width="17" height="1" fill="#128a5c"/>
<rect x="267" y="776" width="1" height="4" fill="#2f9b70"/>
<rect x="258" y="777" width="19" height="3" fill="#2f9b70"/>
<rect x="259" y="778" width="17" height="1" fill="#128a5c"/>
<rect x="290" y="777" width="1" height="8" fill="#ef5c60"/>
<rect x="281" y="777" width="19" height="8" fill="#ef5c60"/>
<rect x="282" y="778" width="17" height="6" fill="#e83a40"/>
<rect x="314" y="781" width="1" height="5" fill="#2f9b70"/>
<rect x="305" y="783" width="19" height="3" fill="#2f9b70"/>
<rect x="306" y="784" width="17" height="1" fill="#128a5c"/>
<rect x="337" y="782" width="1" height="4" fill="#ef5c60"/>
<rect x="328" y="783" width="19" height="3" fill="#ef5c60"/>
<rect x="329" y="784" width="17" height="1" fill="#e83a40"/>
<rect x="360" y="783" width="1" height="4" fill="#ef5c60"/>
<rect x="351" y="784" width="19" height="3" fill="#ef5c60"/>
<rect x="352" y="785" width="17" height="1" fill="#e83a40"/>
<rect x="383" y="781" width="1" height="6" fill="#2f9b70"/>
<rect x="374" y="784" width="19" height="3" fill="#2f9b70"/>
<rect x="375" y="785" width="17" height="1" fill="#128a5c"/>
<rect x="406" y="784" width="1" height="7" fill="#ef5c60"/>
<rect x="397" y="785" width="19" height="6" fill="#ef5c60"/>
<rect x="398" y="786" width="17" height="4" fill="#e83a40"/>
<rect x="429" y="789" width="1" height="10" fill="#ef5c60"/>
<rect x="420" y="790" width="19" height="5" fill="#ef5c60"/>
<rect x="421" y="791" width="17" height="3" fill="#e83a40"/>
<rect x="452" y="793" width="1" height="21" fill="#ef5c60"/>
<rect x="443" y="794" width="19" height="16" fill="#ef5c60"/>
<rect x="444" y="795" width="17" height="14" fill="#e83a40"/>
<rect x="476" y="807" width="1" height="13" fill="#ef5c60"/>
<rect x="467" y="809" width="19" height="10" fill="#ef5c60"/>
<rect x="468" y="810" width="17" height="8" fill="#e83a40"/>
<rect x="499" y="817" width="1" height="11" fill="#ef5c60"/>
<rect x="490" y="818" width="19" height="6" fill="#ef5c60"/>
<rect x="491" y="819" width="17" height="4" fill="#e83a40"/>
<rect x="522" y="815" width="1" height="15" fill="#2f9b70"/>
<rect x="513" y="822" width="19" height="3" fill="#2f9b70"/>
<rect x="514" y="823" width="17" height="1" fill="#128a5c"/>
<rect x="545" y="809" width="1" height="16" fill="#2f9b70"/>
<rect x="536" y="814" width="19" height="10" fill="#2f9b70"/>
<rect x="537" y="815" width="17" height="8" fill="#128a5c"/>
<rect x="568" y="807" width="1" height="9" fill="#2f9b70"/>
<rect x="559" y="812" width="19" height="3" fill="#2f9b70"/>
<rect x="560" y="813" width="17" height="1" fill="#128a5c"/>
<rect x="591" y="812" width="1" height="35" fill="#ef5c60"/>
<rect x="582" y="812" width="19" height="15" fill="#ef5c60"/>
<rect x="583" y="813" width="17" height="13" fill="#e83a40"/>
<rect x="615" y="810" width="1" height="20" fill="#2f9b70"/>
<rect x="606" y="811" width="19" height="16" fill="#2f9b70"/>
<rect x="607" y="812" width="17" height="14" fill="#128a5c"/>
<rect x="638" y="787" width="1" height="25" fill="#2f9b70"/>
<rect x="629" y="788" width="19" height="24" fill="#2f9b70"/>
<rect x="630" y="789" width="17" height="22" fill="#128a5c"/>
<rect x="661" y="776" width="1" height="13" fill="#2f9b70"/>
<rect x="652" y="781" width="19" height="8" fill="#2f9b70"/>
<rect x="653" y="782" width="17" height="6" fill="#128a5c"/>
<rect x="684" y="776" width="1" height="8" fill="#2f9b70"/>
<rect x="675" y="778" width="19" height="4" fill="#2f9b70"/>
<rect x="676" y="779" width="17" height="2" fill="#128a5c"/>
<rect x="707" y="764" width="1" height="15" fill="#2f9b70"/>
<rect x="698" y="765" width="19" height="14" fill="#2f9b70"/>
<rect x="699" y="766" width="17" height="12" fill="#128a5c"/>
<rect x="730" y="759" width="1" height="13" fill="#2f9b70"/>
<rect x="721" y="762" width="19" height="4" fill="#2f9b70"/>
<rect x="722" y="763" width="17" height="2" fill="#128a5c"/>
<rect x="753" y="762" width="1" height="8" fill="#ef5c60"/>
<rect x="744" y="762" width="19" height="7" fill="#ef5c60"/>
<rect x="745" y="763" width="17" height="5" fill="#e83a40"/>
<rect x="777" y="760" width="1" height="9" fill="#2f9b70"/>
<rect x="768" y="763" width="19" height="6" fill="#2f9b70"/>
<rect x="769" y="764" width="17" height="4" fill="#128a5c"/>
<rect x="800" y="745" width="1" height="19" fill="#2f9b70"/>
<rect x="791" y="755" width="19" height="9" fill="#2f9b70"/>
<rect x="792" y="756" width="17" height="7" fill="#128a5c"/>
<rect x="823" y="745" width="1" height="13" fill="#2f9b70"/>
<rect x="814" y="746" width="19" height="10" fill="#2f9b70"/>
<rect x="815" y="747" width="17" height="8" fill="#128a5c"/>
<rect x="846" y="739" width="1" height="8" fill="#2f9b70"/>
<rect x="837" y="740" width="19" height="7" fill="#2f9b70"/>
<rect x="838" y="741" width="17" height="5" fill="#128a5c"/>
<rect x="869" y="736" width="1" height="11" fill="#2f9b70"/>
<rect x="860" y="739" width="19" height="3" fill="#2f9b70"/>
<rect x="861" y="740" width="17" height="1" fill="#128a5c"/>
<rect x="892" y="732" width="1" height="9" fill="#2f9b70"/>
<rect x="883" y="735" width="19" height="5" fill="#2f9b70"/>
<rect x="884" y="736" width="17" height="3" fill="#128a5c"/>
<rect x="916" y="734" width="1" height="7" fill="#ef5c60"/>
<rect x="907" y="735" width="19" height="5" fill="#ef5c60"/>
<rect x="908" y="736" width="17" height="3" fill="#e83a40"/>
<rect x="939" y="734" width="1" height="7" fill="#2f9b70"/>
<rect x="930" y="737" width="19" height="3" fill="#2f9b70"/>
<rect x="931" y="738" width="17" height="1" fill="#128a5c"/>
<rect x="962" y="734" width="1" height="9" fill="#ef5c60"/>
<rect x="953" y="738" width="19" height="3" fill="#ef5c60"/>
<rect x="954" y="739" width="17" height="1" fill="#e83a40"/>
<rect x="985" y="734" width="1" height="8" fill="#2f9b70"/>
<rect x="976" y="738" width="19" height="3" fill="#2f9b70"/>
<rect x="977" y="739" width="17" height="1" fill="#128a5c"/>
<rect x="1008" y="728" width="1" height="11" fill="#2f9b70"/>
<rect x="999" y="730" width="19" height="9" fill="#2f9b70"/>
<rect x="1000" y="731" width="17" height="7" fill="#128a5c"/>
<rect x="1031" y="719" width="1" height="13" fill="#2f9b70"/>
<rect x="1022" y="720" width="19" height="11" fill="#2f9b70"/>
<rect x="1023" y="721" width="17" height="9" fill="#128a5c"/>
<rect x="1054" y="708" width="1" height="14" fill="#2f9b70"/>
<rect x="1045" y="709" width="19" height="12" fill="#2f9b70"/>
<rect x="1046" y="710" width="17" height="10" fill="#128a5c"/>
<rect x="1078" y="701" width="1" height="9" fill="#2f9b70"/>
<rect x="1069" y="702" width="19" height="8" fill="#2f9b70"/>
<rect x="1070" y="703" width="17" height="6" fill="#128a5c"/>
<text x="1388.8" y="89.0" font-size="12" fill="#c7d0ea" textLength="41.2" lengthAdjust="spacingAndGlyphs">6322,00</text>
<text x="1388.8" y="147.2" font-size="12" fill="#c7d0ea" textLength="41.2" lengthAdjust="spacingAndGlyphs">6313,75</text>
<text x="1388.8" y="205.2" font-size="12" fill="#c7d0ea" textLength="41.2" lengthAdjust="spacingAndGlyphs">6305,50</text>
<text x="1388.8" y="263.7" font-size="12" fill="#c7d0ea" textLength="41.2" lengthAdjust="spacingAndGlyphs">6297,25</text>
<text x="1388.8" y="321.7" font-size="12" fill="#c7d0ea" textLength="41.2" lengthAdjust="spacingAndGlyphs">6289,00</text>
<text x="1388.8" y="380.0" font-size="12" fill="#c7d0ea" textLength="41.2" lengthAdjust="spacingAndGlyphs">6280,75</text>
<text x="1388.8" y="438.2" font-size="12" fill="#c7d0ea" textLength="41.2" lengthAdjust="spacingAndGlyphs">6272,50</text>
<text x="1388.8" y="496.9" font-size="12" fill="#c7d0ea" textLength="41.2" lengthAdjust="spacingAndGlyphs">6264,25</text>
<text x="1388.8" y="555.0" font-size="12" fill="#c7d0ea" textLength="41.2" lengthAdjust="spacingAndGlyphs">6256,00</text>
<text x="1388.8" y="613.2" font-size="12" fill="#c7d0ea" textLength="41.2" lengthAdjust="spacingAndGlyphs">6247,75</text>
<text x="1388.8" y="672.0" font-size="12" fill="#c7d0ea" textLength="41.2" lengthAdjust="spacingAndGlyphs">6239,50</text>
<rect x="1387" y="333.6" width="45.2" height="16" fill="#3d9c78"/>
<text x="1388.8" y="346.2" font-size="12" fill="#d6ebe3" textLength="41.2" lengthAdjust="spacingAndGlyphs">6285,50</text>
<text x="1388.8" y="688.4" font-size="12" fill="#c7d0ea" textLength="19.5" lengthAdjust="spacingAndGlyphs">68K</text>
<text x="1388.8" y="688.4" font-size="12" fill="#c7d0ea">0</text>
<text x="1388.8" y="704.3" font-size="12" fill="#c7d0ea" textLength="19.5" lengthAdjust="spacingAndGlyphs">53K</text>
<text x="1388.8" y="779.3" font-size="12" fill="#c7d0ea" textLength="19.5" lengthAdjust="spacingAndGlyphs">43K</text>
<text x="1388.8" y="854.3" font-size="12" fill="#c7d0ea" textLength="19.5" lengthAdjust="spacingAndGlyphs">34K</text>
<text x="59.3" y="864" font-size="12" fill="#c7d0ea" text-anchor="middle" textLength="28" lengthAdjust="spacingAndGlyphs">14:05</text>
<text x="105.6" y="864" font-size="12" fill="#c7d0ea" text-anchor="middle" textLength="28" lengthAdjust="spacingAndGlyphs">14:15</text>
<text x="151.9" y="864" font-size="12" fill="#c7d0ea" text-anchor="middle" textLength="28" lengthAdjust="spacingAndGlyphs">14:25</text>
<text x="198.2" y="864" font-size="12" fill="#c7d0ea" text-anchor="middle" textLength="28" lengthAdjust="spacingAndGlyphs">14:35</text>
<text x="244.5" y="864" font-size="12" fill="#c7d0ea" text-anchor="middle" textLength="28" lengthAdjust="spacingAndGlyphs">14:45</text>
<text x="290.9" y="864" font-size="12" fill="#c7d0ea" text-anchor="middle" textLength="28" lengthAdjust="spacingAndGlyphs">14:55</text>
<text x="337.2" y="864" font-size="12" fill="#c7d0ea" text-anchor="middle" textLength="28" lengthAdjust="spacingAndGlyphs">15:05</text>
<text x="383.5" y="864" font-size="12" fill="#c7d0ea" text-anchor="middle" textLength="28" lengthAdjust="spacingAndGlyphs">15:15</text>
<text x="429.8" y="864" font-size="12" fill="#c7d0ea" text-anchor="middle" textLength="28" lengthAdjust="spacingAndGlyphs">15:25</text>
<text x="476.1" y="864" font-size="12" fill="#c7d0ea" text-anchor="middle" textLength="28" lengthAdjust="spacingAndGlyphs">15:35</text>
<text x="522.4" y="864" font-size="12" fill="#c7d0ea" text-anchor="middle" textLength="28" lengthAdjust="spacingAndGlyphs">15:45</text>
<text x="568.7" y="864" font-size="12" fill="#c7d0ea" text-anchor="middle" textLength="28" lengthAdjust="spacingAndGlyphs">15:55</text>
<text x="615.0" y="864" font-size="12" fill="#c7d0ea" text-anchor="middle" textLength="28" lengthAdjust="spacingAndGlyphs">16:05</text>
<text x="661.3" y="864" font-size="12" fill="#c7d0ea" text-anchor="middle" textLength="28" lengthAdjust="spacingAndGlyphs">16:15</text>
<text x="707.6" y="864" font-size="12" fill="#c7d0ea" text-anchor="middle" textLength="28" lengthAdjust="spacingAndGlyphs">16:25</text>
<text x="754.0" y="864" font-size="12" fill="#c7d0ea" text-anchor="middle" textLength="28" lengthAdjust="spacingAndGlyphs">16:35</text>
<text x="800.3" y="864" font-size="12" fill="#c7d0ea" text-anchor="middle" textLength="28" lengthAdjust="spacingAndGlyphs">16:45</text>
<text x="846.6" y="864" font-size="12" fill="#c7d0ea" text-anchor="middle" textLength="28" lengthAdjust="spacingAndGlyphs">16:55</text>
<text x="892.9" y="864" font-size="12" fill="#c7d0ea" text-anchor="middle" textLength="28" lengthAdjust="spacingAndGlyphs">17:05</text>
<text x="939.2" y="864" font-size="12" fill="#c7d0ea" text-anchor="middle" textLength="28" lengthAdjust="spacingAndGlyphs">17:15</text>
<text x="985.5" y="864" font-size="12" fill="#c7d0ea" text-anchor="middle" textLength="28" lengthAdjust="spacingAndGlyphs">17:25</text>
<text x="1031.8" y="864" font-size="12" fill="#c7d0ea" text-anchor="middle" textLength="28" lengthAdjust="spacingAndGlyphs">17:35</text>
<text x="1078.1" y="864" font-size="12" fill="#c7d0ea" text-anchor="middle" textLength="28" lengthAdjust="spacingAndGlyphs">17:45</text>
<g stroke="#b8ccf8" stroke-width="1.35" stroke-linecap="round"><line x1="15.3" y1="11.3" x2="23.2" y2="19.2"/><line x1="23.2" y1="11.3" x2="15.3" y2="19.2"/></g>
<g stroke="#a9c2f5" stroke-width="1.2" fill="#3c4a72" ><line x1="46.9" y1="8" x2="46.9" y2="21"/><rect x="44.5" y="10.5" width="5" height="8" shape-rendering="crispEdges"/><line x1="55.1" y1="9" x2="55.1" y2="22"/><rect x="52.5" y="12.5" width="5" height="7" shape-rendering="crispEdges"/></g>
<g fill="#a9c2f5"><rect x="75.8" y="15" width="1.9" height="6.8"/><rect x="80" y="8" width="2.5" height="13.8"/><rect x="84.2" y="10.8" width="2.1" height="11"/><rect x="88.3" y="15.8" width="1.9" height="6"/></g>
<polygon points="121.95,15.30 121.94,15.66 121.91,16.03 121.86,16.39 121.80,16.74 121.71,17.10 121.58,17.44 121.30,17.72 120.87,17.91 120.43,18.06 120.15,18.27 120.11,18.62 120.19,19.07 120.24,19.55 120.14,19.93 119.91,20.21 119.65,20.46 119.37,20.70 119.09,20.92 118.79,21.13 118.47,21.32 118.16,21.49 117.83,21.65 117.49,21.79 117.15,21.91 116.80,22.01 116.44,22.07 116.06,21.96 115.67,21.69 115.32,21.38 115.00,21.25 114.68,21.38 114.33,21.69 113.94,21.96 113.56,22.07 113.20,22.01 112.85,21.91 112.51,21.79 112.17,21.65 111.84,21.49 111.53,21.32 111.21,21.13 110.91,20.92 110.63,20.70 110.35,20.46 110.09,20.21 109.86,19.93 109.76,19.55 109.81,19.07 109.89,18.62 109.85,18.27 109.57,18.06 109.13,17.91 108.70,17.72 108.42,17.44 108.29,17.10 108.20,16.74 108.14,16.39 108.09,16.03 108.06,15.66 108.05,15.30 108.06,14.94 108.09,14.57 108.14,14.21 108.20,13.86 108.29,13.50 108.42,13.16 108.70,12.88 109.13,12.69 109.57,12.54 109.85,12.32 109.89,11.98 109.81,11.53 109.76,11.05 109.86,10.67 110.09,10.39 110.35,10.14 110.63,9.90 110.91,9.68 111.21,9.47 111.52,9.28 111.84,9.11 112.17,8.95 112.51,8.81 112.85,8.69 113.20,8.59 113.56,8.53 113.94,8.64 114.33,8.91 114.68,9.22 115.00,9.35 115.32,9.22 115.67,8.91 116.06,8.64 116.44,8.53 116.80,8.59 117.15,8.69 117.49,8.81 117.83,8.95 118.16,9.11 118.47,9.28 118.79,9.47 119.09,9.68 119.37,9.90 119.65,10.14 119.91,10.39 120.14,10.67 120.24,11.05 120.19,11.53 120.11,11.98 120.15,12.32 120.43,12.54 120.87,12.69 121.30,12.88 121.58,13.16 121.71,13.50 121.80,13.86 121.86,14.21 121.91,14.57 121.94,14.94" fill="none" stroke="#b8ccf8" stroke-width="1.2" stroke-linejoin="round"/>
<circle cx="115" cy="15.3" r="2.9" fill="none" stroke="#b8ccf8" stroke-width="1.2"/>
<rect x="139.2" y="7.2" width="15.8" height="15.8" rx="2" fill="#c5d6fb"/>
<text x="147.1" y="20.8" font-size="15.5" fill="#1a2140" text-anchor="middle">$</text>
<rect x="596.5" y="3.7" width="97" height="22.6" rx="2" fill="#222a48" stroke="#39425f" stroke-width="1"/>
<text x="605.5" y="20" font-size="12.4" fill="#c8d6fa" textLength="55.5" lengthAdjust="spacingAndGlyphs">ES-202509</text>
<polyline points="673.5,13 677.5,17.3 681.5,13" fill="none" stroke="#c8d6fa" stroke-width="1.4" stroke-linecap="round" stroke-linejoin="round"/>
<rect x="702.7" y="3.7" width="89.59999999999991" height="22.6" rx="2" fill="#222a48" stroke="#39425f" stroke-width="1"/>
<text x="711.2" y="20" font-size="12.4" fill="#c8d6fa" textLength="45" lengthAdjust="spacingAndGlyphs">30D - BT</text>
<polyline points="768.3,13 772.3,17.3 776.3,13" fill="none" stroke="#c8d6fa" stroke-width="1.4" stroke-linecap="round" stroke-linejoin="round"/>
<rect x="801.7" y="3.7" width="91.59999999999991" height="22.6" rx="2" fill="#222a48" stroke="#39425f" stroke-width="1"/>
<text x="810.7" y="20" font-size="12.4" fill="#c8d6fa" textLength="46.7" lengthAdjust="spacingAndGlyphs">5 Minute</text>
<polyline points="869.3,13 873.3,17.3 877.3,13" fill="none" stroke="#c8d6fa" stroke-width="1.4" stroke-linecap="round" stroke-linejoin="round"/>
<rect x="1336.4" y="8.2" width="13.1" height="13.6" rx="2.6" fill="#008000" stroke="#b8ccf8" stroke-width="1.5"/>
<rect x="1365" y="14" width="8" height="2" fill="#9fb4e8"/>
<g fill="none" stroke="#b8ccf8" stroke-width="1.3"><path d="M1395.2,13.6V10.9H1401.5V16.6H1399.6"/><rect x="1392.7" y="14.4" width="6" height="5.1"/></g>
<g stroke="#b8ccf8" stroke-width="1.35" stroke-linecap="round"><line x1="1421" y1="11" x2="1429.3" y2="19.3"/><line x1="1429.3" y1="11" x2="1421" y2="19.3"/></g>
<path d="M11,48.8 L18.3,52.9 L15.7,54.5 L19.1,58.3 L17.6,59.6 L14.2,55.8 L12.4,57.3 Z" fill="#a9c2f5"/>
<path d="M13.6,76.2 c0.9,-1 2.6,-0.8 2.7,0.6 l0.3,4 l4,1 c1.2,0.4 1.6,1.4 1.4,2.6 l-0.5,3 c-0.2,1 -1,1.7 -2.1,1.7 h-4.2 c-0.8,0 -1.5,-0.3 -2.1,-0.8 l-4.6,-3.6 c-0.9,-0.9 -0.1,-2.2 1,-2 l3.6,1.2 Z" fill="#3c4a72" stroke="#a9c2f5" stroke-width="1.3" stroke-linejoin="round"/>
<circle cx="14.3" cy="109.5" r="5.5" fill="#3c4a72" stroke="#a9c2f5" stroke-width="1.5"/><line x1="18.5" y1="113.6" x2="21.4" y2="116.5" stroke="#a9c2f5" stroke-width="1.5" stroke-linecap="round"/>
<g stroke="#c5d6fb" stroke-width="2.2"><line x1="8" y1="138" x2="22" y2="138"/><line x1="15" y1="131" x2="15" y2="145"/></g>
<rect x="5" y="156" width="20" height="20" rx="2" fill="#c5d6fb"/>
<g fill="none" stroke="#141a36" stroke-width="1.7" stroke-linecap="round" stroke-linejoin="round"><line x1="8.4" y1="164.4" x2="17.8" y2="164.4"/><path d="M13,158.8 V168.2 a3.4,3.4 0 0 0 6.8,0 V163"/><path d="M17.4,165.6 L19.8,162.4 L22.2,165.6"/></g>
<rect x="8" y="209" width="14" height="2" fill="#c5d6fb"/>
<rect x="14" y="231" width="2.1" height="14" fill="#c5d6fb"/>
<line x1="10" y1="266.2" x2="22" y2="266.2" stroke="#6f80b6" stroke-width="1.6"/><circle cx="10" cy="266.2" r="2.1" fill="#a9c2f5"/>
<g stroke="#a9c2f5" stroke-width="1.1" fill="#3c4a72"><line x1="11.3" y1="297.9" x2="18.7" y2="290.5"/><circle cx="10" cy="299.2" r="1.8"/><circle cx="20" cy="289.2" r="1.8"/></g>
<g stroke="#a9c2f5" stroke-width="1.1" fill="#3c4a72"><line x1="13" y1="315.7" x2="21" y2="324"/><line x1="9" y1="320" x2="17" y2="328"/><circle cx="13" cy="315.7" r="1.8"/><circle cx="21" cy="324" r="1.8"/><circle cx="9" cy="320" r="1.8"/><circle cx="17" cy="328" r="1.8"/></g>
<rect x="8.5" y="344.5" width="13" height="11" fill="#3c4a72" stroke="#a9c2f5" stroke-width="1.1"/><rect x="10.2" y="346.2" width="9.6" height="7.6" fill="none" stroke="#141a36" stroke-width="1.2"/>
<g stroke="#a9c2f5" stroke-width="1" fill="none"><path d="M10,372.8 V371.3 H20 V372.8"/><line x1="15" y1="371.3" x2="15" y2="384.8"/><line x1="12.8" y1="384.8" x2="17.2" y2="384.8"/></g>
<rect x="9" y="400" width="12" height="2" fill="#c5d6fb"/>
<rect x="9" y="405" width="12" height="2" fill="#c5d6fb"/>
<rect x="9" y="410" width="12" height="2" fill="#c5d6fb"/>
<rect x="9" y="427.55" width="12" height="1.5" fill="#c5d6fb"/>
<rect x="9" y="431.35" width="12" height="1.5" fill="#c5d6fb"/>
<rect x="9" y="435.05" width="12" height="1.5" fill="#c5d6fb"/>
<rect x="9" y="438.85" width="12" height="1.5" fill="#c5d6fb"/>
<path d="M7.5,454.3 H10.5 L13,459 L11.3,459.6 L19.3,462.3 L10.6,467 L12.6,467.5 L10,469.8 H7.5 Z" fill="#3c4a72"/>
<path d="M10.5,454.3 L13,459 L11.3,459.6 L19.3,462.3 L10.6,467 L12.6,467.5 L10,469.8" fill="none" stroke="#a9c2f5" stroke-width="1.1" stroke-linejoin="round"/>
<path d="M7.3,483.3 V496.8 H11.8 M7.3,483.3 H12 a3.3,3.3 0 0 1 0,6.7 H7.3" fill="none" stroke="#a9c2f5" stroke-width="1"/>
<circle cx="18.4" cy="493.5" r="4.6" fill="#a9c2f5"/><text x="18.4" y="496.5" font-size="8.2" fill="#1a2140" text-anchor="middle">$</text>
<path d="M15.2,512.6 a4.2,3.4 0 0 0 -7.4,1.9 c0,3.2 6.2,2.5 6.2,6 M7.8,524.6 H12" fill="none" stroke="#a9c2f5" stroke-width="1"/>
<circle cx="18.4" cy="521.3" r="4.6" fill="#a9c2f5"/><text x="18.4" y="524.3" font-size="8.2" fill="#1a2140" text-anchor="middle">$</text>
<rect x="5" y="552" width="20" height="20" rx="2" fill="#c5d6fb"/>
<g transform="translate(15.3,562.2) rotate(40)"><path d="M-6.3,5.3 V-0.5 a6.3,6.3 0 0 1 12.6,0 V5.3 H2.6 V-0.5 a2.6,2.6 0 0 0 -5.2,0 V5.3 Z" fill="#8d96ad" stroke="#141a36" stroke-width="1.2" stroke-linejoin="round"/><rect x="-6.3" y="2.6" width="3.7" height="2.7" fill="#141a36"/><rect x="2.6" y="2.6" width="3.7" height="2.7" fill="#141a36"/></g>
<g fill="none" stroke="#a9c2f5" stroke-width="1.2" stroke-linejoin="round"><path d="M8,593.2 L16.8,584.2 L22.2,589 L14.6,596.6 H10.6 Z" /><path d="M13.5,587.6 L18.9,592.4 L22.2,589 L16.8,584.2 Z" fill="#3c4a72"/><line x1="10.6" y1="596.6" x2="22" y2="596.6"/></g>
<g stroke="#c5d6fb" stroke-width="1.3"><line x1="8.3" y1="617.3" x2="18.3" y2="617.3"/><line x1="13.3" y1="612.3" x2="13.3" y2="622.3"/></g><rect x="15.6" y="618.9" width="6.6" height="6.6" fill="#3c4a72" stroke="#a9c2f5" stroke-width="1.1"/>
<rect x="5.2" y="875" width="19.8" height="19.8" rx="2" fill="#c5d6fb"/>
<rect x="8.6" y="878.4" width="13" height="9.4" fill="#9aa6cc" stroke="#1a2140" stroke-width="1.2"/><rect x="8.6" y="889.3" width="13" height="2.4" fill="#9aa6cc" stroke="#1a2140" stroke-width="1"/>
<circle cx="54.8" cy="887.1" r="5.4" fill="none" stroke="#5a6484" stroke-width="1.1"/>
<text x="65.2" y="891" font-size="11.2" fill="#c7d0ea" textLength="31.1" lengthAdjust="spacingAndGlyphs">OF-VP</text>
<circle cx="119.8" cy="887.1" r="5.4" fill="none" stroke="#5a6484" stroke-width="1.1"/>
<text x="130.2" y="891" font-size="11.2" fill="#c7d0ea" textLength="35.4" lengthAdjust="spacingAndGlyphs">OF-B/A</text>
<circle cx="190" cy="887.1" r="5.4" fill="none" stroke="#9aa4c0" stroke-width="1.1"/><circle cx="190" cy="887.1" r="3" fill="#8cd61f"/>
<text x="200.4" y="891" font-size="11.2" fill="#c7d0ea" textLength="24.6" lengthAdjust="spacingAndGlyphs">D-VP</text>
<circle cx="249" cy="887.1" r="5.4" fill="none" stroke="#5a6484" stroke-width="1.1"/>
<text x="259.4" y="891" font-size="11.2" fill="#c7d0ea" textLength="25.6" lengthAdjust="spacingAndGlyphs">D-DP</text>
<circle cx="308.8" cy="887.1" r="5.4" fill="none" stroke="#5a6484" stroke-width="1.1"/>
<text x="319.2" y="891" font-size="11.2" fill="#c7d0ea" textLength="23.8" lengthAdjust="spacingAndGlyphs">D-VL</text>
<circle cx="366.9" cy="887.1" r="5.4" fill="none" stroke="#5a6484" stroke-width="1.1"/>
<text x="377.3" y="891" font-size="11.2" fill="#c7d0ea" textLength="27.1" lengthAdjust="spacingAndGlyphs">W-VP</text>
<circle cx="429" cy="887.1" r="5.4" fill="none" stroke="#5a6484" stroke-width="1.1"/>
<text x="439.4" y="891" font-size="11.2" fill="#c7d0ea" textLength="28.1" lengthAdjust="spacingAndGlyphs">W-DP</text>
<circle cx="491.9" cy="887.1" r="5.4" fill="none" stroke="#5a6484" stroke-width="1.1"/>
<text x="501.9" y="891" font-size="11.2" fill="#c7d0ea" textLength="24.4" lengthAdjust="spacingAndGlyphs">C-VP</text>
<circle cx="1243" cy="887.1" r="5.4" fill="none" stroke="#5a6484" stroke-width="1.1"/>
<text x="1253.3" y="891" font-size="11.2" fill="#c7d0ea" textLength="64.2" lengthAdjust="spacingAndGlyphs">DOM Trading</text>
<text x="1331.7" y="890.8" font-size="12" fill="#d2dbf3" textLength="70.8" lengthAdjust="spacingAndGlyphs">Trading panel</text>
<rect x="1407" y="878" width="28" height="16.2" rx="8.1" fill="#66729a"/><circle cx="1415" cy="886.2" r="5" fill="#ffffff"/>
<rect x="619.3" y="386.4" width="201.4" height="181.6" rx="2" fill="#070c22" opacity="0.6"/>
<rect x="621" y="388.1" width="198" height="178.2" rx="1.2" fill="#1d2139" stroke="#363f62" stroke-width="2"/>
<circle cx="720" cy="428.2" r="21.7" fill="none" stroke="#a9c2f5" stroke-width="2.9"/><circle cx="720" cy="428.2" r="10.3" fill="none" stroke="#a9c2f5" stroke-width="0.9"/>
<rect x="718.3" y="422.3" width="3.4" height="7.6" rx="1.2" fill="#7f86a3"/><circle cx="720" cy="432.6" r="1.6" fill="#7f86a3"/>
<text x="718.2" y="481.8" font-size="13.1" fill="#c9cfe2" stroke="#c9cfe2" stroke-width="0.42" text-anchor="middle" textLength="127" lengthAdjust="spacingAndGlyphs">ES-202509 5 Minute</text>
<text x="720" y="507.3" font-size="12" fill="#d5daea" text-anchor="middle" textLength="142.6" lengthAdjust="spacingAndGlyphs">Bottom rectangle breakout</text>
<rect x="680" y="533.6" width="80.2" height="24.4" rx="2" fill="#6ea8fe"/>
<text x="720.1" y="550.6" font-size="12.6" fill="#1b2340" text-anchor="middle" textLength="16.6" lengthAdjust="spacingAndGlyphs">OK</text>
</svg></body></html>
